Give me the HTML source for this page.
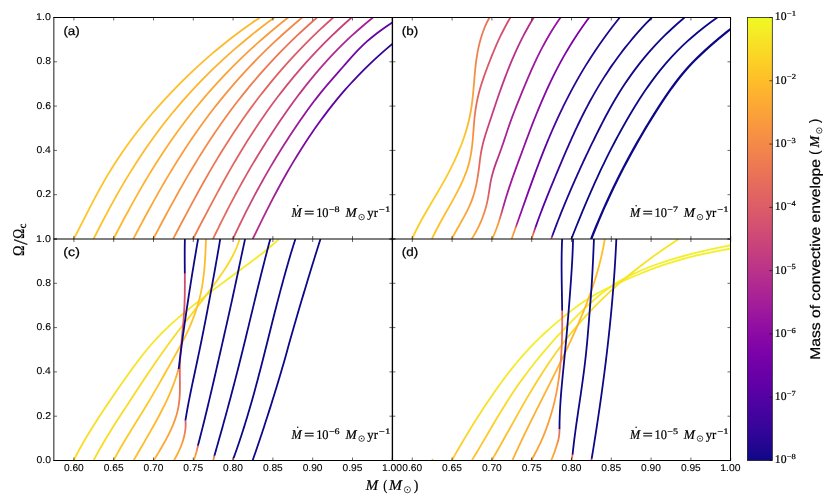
<!DOCTYPE html>
<html lang="en">
<head>
<meta charset="utf-8">
<title>Spin-up of accreting white dwarfs</title>
<style>
html,body{margin:0;padding:0;background:#fff;}
body{width:830px;height:498px;overflow:hidden;font-family:"Liberation Sans",sans-serif;}
svg{display:block;will-change:transform;}
text{white-space:pre;text-rendering:geometricPrecision;stroke:#000;stroke-width:0.22px;stroke-linejoin:round;}
#ticklabels text{stroke-width:0.1px;}
</style>
</head>
<body>
<svg width="830" height="498" viewBox="0 0 830 498">
<defs>
<linearGradient id="g1" gradientUnits="userSpaceOnUse" x1="0" y1="239.00" x2="0" y2="17.50"><stop offset="0.0000" stop-color="#fdc627"/><stop offset="0.5508" stop-color="#fdc229"/><stop offset="1.0000" stop-color="#feb72d"/><stop offset="1.0000" stop-color="#feb72d"/></linearGradient>
<linearGradient id="g2" gradientUnits="userSpaceOnUse" x1="0" y1="239.00" x2="0" y2="17.50"><stop offset="0.0000" stop-color="#fdc229"/><stop offset="0.5508" stop-color="#feba2c"/><stop offset="1.0000" stop-color="#fdab33"/><stop offset="1.0000" stop-color="#fdab33"/></linearGradient>
<linearGradient id="g3" gradientUnits="userSpaceOnUse" x1="0" y1="239.00" x2="0" y2="17.50"><stop offset="0.0000" stop-color="#feba2c"/><stop offset="0.5508" stop-color="#fdab33"/><stop offset="1.0000" stop-color="#f9983e"/><stop offset="1.0000" stop-color="#f9983e"/></linearGradient>
<linearGradient id="g4" gradientUnits="userSpaceOnUse" x1="0" y1="239.00" x2="0" y2="17.50"><stop offset="0.0000" stop-color="#fdae32"/><stop offset="0.5508" stop-color="#f9983e"/><stop offset="1.0000" stop-color="#f3874a"/><stop offset="1.0000" stop-color="#f3874a"/></linearGradient>
<linearGradient id="g5" gradientUnits="userSpaceOnUse" x1="0" y1="239.00" x2="0" y2="17.50"><stop offset="0.0000" stop-color="#fb9f3a"/><stop offset="0.5508" stop-color="#f2844b"/><stop offset="1.0000" stop-color="#e76e5b"/><stop offset="1.0000" stop-color="#e76e5b"/></linearGradient>
<linearGradient id="g6" gradientUnits="userSpaceOnUse" x1="0" y1="239.00" x2="0" y2="17.50"><stop offset="0.0000" stop-color="#f68d45"/><stop offset="0.5508" stop-color="#e56a5d"/><stop offset="1.0000" stop-color="#d6556d"/><stop offset="1.0000" stop-color="#d6556d"/></linearGradient>
<linearGradient id="g7" gradientUnits="userSpaceOnUse" x1="0" y1="239.00" x2="0" y2="17.50"><stop offset="0.0000" stop-color="#f0804e"/><stop offset="0.5508" stop-color="#d6556d"/><stop offset="1.0000" stop-color="#c43e7f"/><stop offset="1.0000" stop-color="#c43e7f"/></linearGradient>
<linearGradient id="g8" gradientUnits="userSpaceOnUse" x1="0" y1="239.00" x2="0" y2="17.50"><stop offset="0.0000" stop-color="#eb7655"/><stop offset="0.5508" stop-color="#c43e7f"/><stop offset="1.0000" stop-color="#a51f99"/><stop offset="1.0000" stop-color="#a51f99"/></linearGradient>
<linearGradient id="g9" gradientUnits="userSpaceOnUse" x1="0" y1="239.00" x2="0" y2="17.50"><stop offset="0.0000" stop-color="#dd5e66"/><stop offset="0.5508" stop-color="#9613a1"/><stop offset="1.0000" stop-color="#5901a5"/><stop offset="1.0000" stop-color="#5901a5"/></linearGradient>
<linearGradient id="g10" gradientUnits="userSpaceOnUse" x1="0" y1="239.00" x2="0" y2="30.00"><stop offset="0.0000" stop-color="#ba3388"/><stop offset="0.5837" stop-color="#6a00a8"/><stop offset="1.0000" stop-color="#1b068d"/><stop offset="1.0000" stop-color="#1b068d"/></linearGradient>
<linearGradient id="g11" gradientUnits="userSpaceOnUse" x1="0" y1="239.00" x2="0" y2="17.50"><stop offset="0.0000" stop-color="#fcce25"/><stop offset="0.4515" stop-color="#fdc627"/><stop offset="0.6275" stop-color="#fca636"/><stop offset="0.8081" stop-color="#f2844b"/><stop offset="1.0000" stop-color="#e87059"/></linearGradient>
<linearGradient id="g12" gradientUnits="userSpaceOnUse" x1="0" y1="239.00" x2="0" y2="17.50"><stop offset="0.0000" stop-color="#fdc627"/><stop offset="0.2528" stop-color="#feb72d"/><stop offset="0.3567" stop-color="#fca636"/><stop offset="0.4515" stop-color="#f89540"/><stop offset="0.5147" stop-color="#f2844b"/><stop offset="0.5824" stop-color="#e87059"/><stop offset="0.6772" stop-color="#dd5e66"/><stop offset="0.8081" stop-color="#d6556d"/><stop offset="1.0000" stop-color="#d24f71"/></linearGradient>
<linearGradient id="g13" gradientUnits="userSpaceOnUse" x1="0" y1="239.00" x2="0" y2="17.50"><stop offset="0.0000" stop-color="#feb72d"/><stop offset="0.1535" stop-color="#fb9f3a"/><stop offset="0.2664" stop-color="#ef7e50"/><stop offset="0.3567" stop-color="#e16462"/><stop offset="0.4515" stop-color="#cc4778"/><stop offset="0.6275" stop-color="#bf3984"/><stop offset="1.0000" stop-color="#b32c8e"/></linearGradient>
<linearGradient id="g14" gradientUnits="userSpaceOnUse" x1="0" y1="239.00" x2="0" y2="17.50"><stop offset="0.0000" stop-color="#fdb22f"/><stop offset="0.0948" stop-color="#f79143"/><stop offset="0.1761" stop-color="#e56a5d"/><stop offset="0.2438" stop-color="#d04d73"/><stop offset="0.3341" stop-color="#ba3388"/><stop offset="0.4515" stop-color="#ab2494"/><stop offset="1.0000" stop-color="#9613a1"/></linearGradient>
<linearGradient id="g15" gradientUnits="userSpaceOnUse" x1="0" y1="239.00" x2="0" y2="17.50"><stop offset="0.0000" stop-color="#fdae32"/><stop offset="0.0767" stop-color="#f9983e"/><stop offset="0.1129" stop-color="#d6556d"/><stop offset="0.1535" stop-color="#a72197"/><stop offset="0.4515" stop-color="#8f0da4"/><stop offset="1.0000" stop-color="#7501a8"/></linearGradient>
<linearGradient id="g16" gradientUnits="userSpaceOnUse" x1="0" y1="239.00" x2="0" y2="17.50"><stop offset="0.0000" stop-color="#fca636"/><stop offset="0.0451" stop-color="#f79143"/><stop offset="0.0677" stop-color="#b12a90"/><stop offset="0.1084" stop-color="#8f0da4"/><stop offset="0.2257" stop-color="#7e03a8"/><stop offset="0.4515" stop-color="#5601a4"/><stop offset="0.6772" stop-color="#2a0593"/><stop offset="1.0000" stop-color="#1b068d"/></linearGradient>
<linearGradient id="g17" gradientUnits="userSpaceOnUse" x1="0" y1="239.00" x2="0" y2="17.50"><stop offset="0.0000" stop-color="#fb9f3a"/><stop offset="0.0316" stop-color="#d6556d"/><stop offset="0.0587" stop-color="#6300a7"/><stop offset="0.2257" stop-color="#4903a0"/><stop offset="0.4515" stop-color="#260591"/><stop offset="1.0000" stop-color="#0d0887"/></linearGradient>
<linearGradient id="g18" gradientUnits="userSpaceOnUse" x1="0" y1="239.00" x2="0" y2="17.50"><stop offset="0.0000" stop-color="#f89540"/><stop offset="0.0113" stop-color="#8f0da4"/><stop offset="0.0226" stop-color="#20068f"/><stop offset="1.0000" stop-color="#0d0887"/></linearGradient>
<linearGradient id="g19" gradientUnits="userSpaceOnUse" x1="0" y1="239.00" x2="0" y2="17.50"><stop offset="0.0000" stop-color="#0d0887"/><stop offset="1.0000" stop-color="#0d0887"/></linearGradient>
<linearGradient id="g20" gradientUnits="userSpaceOnUse" x1="0" y1="239.00" x2="0" y2="18.00"><stop offset="0.0000" stop-color="#0d0887"/><stop offset="1.0000" stop-color="#0d0887"/></linearGradient>
<linearGradient id="g21" gradientUnits="userSpaceOnUse" x1="0" y1="460.50" x2="0" y2="239.00"><stop offset="0.0000" stop-color="#f9dc24"/><stop offset="1.0000" stop-color="#f4ed27"/></linearGradient>
<linearGradient id="g22" gradientUnits="userSpaceOnUse" x1="0" y1="460.50" x2="0" y2="239.00"><stop offset="0.0000" stop-color="#f9dc24"/><stop offset="1.0000" stop-color="#fbd724"/></linearGradient>
<linearGradient id="g23" gradientUnits="userSpaceOnUse" x1="0" y1="460.50" x2="0" y2="239.00"><stop offset="0.0000" stop-color="#fdca26"/><stop offset="0.7246" stop-color="#fdc229"/><stop offset="1.0000" stop-color="#feb72d"/></linearGradient>
<linearGradient id="g24" gradientUnits="userSpaceOnUse" x1="0" y1="460.50" x2="0" y2="239.00"><stop offset="0.0000" stop-color="#fdb22f"/><stop offset="0.1603" stop-color="#fb9f3a"/><stop offset="0.2506" stop-color="#ef7e50"/><stop offset="0.3409" stop-color="#e56a5d"/><stop offset="0.4131" stop-color="#e16462"/><stop offset="0.6343" stop-color="#da5b69"/><stop offset="0.8420" stop-color="#cc4778"/><stop offset="0.8479" stop-color="#0d0887"/><stop offset="1.0000" stop-color="#0d0887"/></linearGradient>
<linearGradient id="g25" gradientUnits="userSpaceOnUse" x1="0" y1="460.50" x2="0" y2="239.00"><stop offset="0.0000" stop-color="#febe2a"/><stop offset="0.3634" stop-color="#feb72d"/><stop offset="0.4041" stop-color="#fca636"/><stop offset="0.4108" stop-color="#f2844b"/><stop offset="0.4153" stop-color="#0d0887"/><stop offset="1.0000" stop-color="#0d0887"/></linearGradient>
<linearGradient id="g26" gradientUnits="userSpaceOnUse" x1="0" y1="460.50" x2="0" y2="239.00"><stop offset="0.0000" stop-color="#fdb22f"/><stop offset="0.0700" stop-color="#fb9f3a"/><stop offset="0.1287" stop-color="#ef7e50"/><stop offset="0.1693" stop-color="#e16462"/><stop offset="0.1797" stop-color="#dd5e66"/><stop offset="0.1828" stop-color="#0d0887"/><stop offset="1.0000" stop-color="#0d0887"/></linearGradient>
<linearGradient id="g27" gradientUnits="userSpaceOnUse" x1="0" y1="460.50" x2="0" y2="239.00"><stop offset="0.0000" stop-color="#fdae32"/><stop offset="0.0384" stop-color="#f79143"/><stop offset="0.0609" stop-color="#e56a5d"/><stop offset="0.0664" stop-color="#dd5e66"/><stop offset="0.0691" stop-color="#0d0887"/><stop offset="1.0000" stop-color="#0d0887"/></linearGradient>
<linearGradient id="g28" gradientUnits="userSpaceOnUse" x1="0" y1="460.50" x2="0" y2="239.00"><stop offset="0.0000" stop-color="#fb9f3a"/><stop offset="0.0158" stop-color="#ea7457"/><stop offset="0.0212" stop-color="#e16462"/><stop offset="0.0235" stop-color="#0d0887"/><stop offset="1.0000" stop-color="#0d0887"/></linearGradient>
<linearGradient id="g29" gradientUnits="userSpaceOnUse" x1="0" y1="460.50" x2="0" y2="239.00"><stop offset="0.0000" stop-color="#f89540"/><stop offset="0.0090" stop-color="#e16462"/><stop offset="0.0113" stop-color="#0d0887"/><stop offset="1.0000" stop-color="#0d0887"/></linearGradient>
<linearGradient id="g30" gradientUnits="userSpaceOnUse" x1="0" y1="460.50" x2="0" y2="239.00"><stop offset="0.0000" stop-color="#0d0887"/><stop offset="1.0000" stop-color="#0d0887"/></linearGradient>
<linearGradient id="g31" gradientUnits="userSpaceOnUse" x1="0" y1="460.50" x2="0" y2="244.00"><stop offset="0.0000" stop-color="#fdc627"/><stop offset="0.1871" stop-color="#f9dc24"/><stop offset="0.4642" stop-color="#f4ed27"/><stop offset="1.0000" stop-color="#f3f027"/></linearGradient>
<linearGradient id="g32" gradientUnits="userSpaceOnUse" x1="0" y1="460.50" x2="0" y2="240.20"><stop offset="0.0000" stop-color="#febe2a"/><stop offset="0.1838" stop-color="#fcd225"/><stop offset="0.4562" stop-color="#f6e826"/><stop offset="0.9986" stop-color="#f3f027"/></linearGradient>
<linearGradient id="g33" gradientUnits="userSpaceOnUse" x1="0" y1="460.50" x2="0" y2="239.00"><stop offset="0.0000" stop-color="#feb72d"/><stop offset="0.2731" stop-color="#fdca26"/><stop offset="0.6343" stop-color="#f8df25"/><stop offset="1.0000" stop-color="#f7e425"/></linearGradient>
<linearGradient id="g34" gradientUnits="userSpaceOnUse" x1="0" y1="460.50" x2="0" y2="239.00"><stop offset="0.0000" stop-color="#fdae32"/><stop offset="1.0000" stop-color="#febe2a"/></linearGradient>
<linearGradient id="g35" gradientUnits="userSpaceOnUse" x1="0" y1="460.50" x2="0" y2="239.00"><stop offset="0.0000" stop-color="#fca636"/><stop offset="0.3634" stop-color="#f9983e"/><stop offset="0.4492" stop-color="#ef7e50"/><stop offset="0.6749" stop-color="#e16462"/><stop offset="0.6795" stop-color="#0d0887"/><stop offset="1.0000" stop-color="#0d0887"/></linearGradient>
<linearGradient id="g36" gradientUnits="userSpaceOnUse" x1="0" y1="460.50" x2="0" y2="239.00"><stop offset="0.0000" stop-color="#fdae32"/><stop offset="0.0700" stop-color="#f9983e"/><stop offset="0.1151" stop-color="#eb7655"/><stop offset="0.1377" stop-color="#e16462"/><stop offset="0.1409" stop-color="#dd5e66"/><stop offset="0.1431" stop-color="#0d0887"/><stop offset="1.0000" stop-color="#0d0887"/></linearGradient>
<linearGradient id="g37" gradientUnits="userSpaceOnUse" x1="0" y1="460.50" x2="0" y2="239.00"><stop offset="0.0000" stop-color="#f58b47"/><stop offset="0.0203" stop-color="#e87059"/><stop offset="0.0257" stop-color="#e16462"/><stop offset="0.0280" stop-color="#0d0887"/><stop offset="1.0000" stop-color="#0d0887"/></linearGradient>
<linearGradient id="g38" gradientUnits="userSpaceOnUse" x1="0" y1="460.50" x2="0" y2="239.00"><stop offset="0.0000" stop-color="#e16462"/><stop offset="0.0077" stop-color="#cc4778"/><stop offset="0.0099" stop-color="#0d0887"/><stop offset="1.0000" stop-color="#0d0887"/></linearGradient><linearGradient id="cbg" x1="0" y1="0" x2="0" y2="1"><stop offset="0.0000" stop-color="#f0f921"/><stop offset="0.0312" stop-color="#f4ed27"/><stop offset="0.0625" stop-color="#f8df25"/><stop offset="0.0938" stop-color="#fcd225"/><stop offset="0.1250" stop-color="#fdc527"/><stop offset="0.1562" stop-color="#feb82c"/><stop offset="0.1875" stop-color="#fdac33"/><stop offset="0.2188" stop-color="#fba139"/><stop offset="0.2500" stop-color="#f89540"/><stop offset="0.2812" stop-color="#f58b47"/><stop offset="0.3125" stop-color="#f0804e"/><stop offset="0.3438" stop-color="#eb7655"/><stop offset="0.3750" stop-color="#e66c5c"/><stop offset="0.4062" stop-color="#e06363"/><stop offset="0.4375" stop-color="#da5a6a"/><stop offset="0.4688" stop-color="#d35171"/><stop offset="0.5000" stop-color="#cc4778"/><stop offset="0.5312" stop-color="#c43e7f"/><stop offset="0.5625" stop-color="#bc3587"/><stop offset="0.5938" stop-color="#b32c8e"/><stop offset="0.6250" stop-color="#aa2395"/><stop offset="0.6562" stop-color="#a01a9c"/><stop offset="0.6875" stop-color="#9511a1"/><stop offset="0.7188" stop-color="#8a09a5"/><stop offset="0.7500" stop-color="#7e03a8"/><stop offset="0.7812" stop-color="#7201a8"/><stop offset="0.8125" stop-color="#6600a7"/><stop offset="0.8438" stop-color="#5901a5"/><stop offset="0.8750" stop-color="#4c02a1"/><stop offset="0.9062" stop-color="#3f049c"/><stop offset="0.9375" stop-color="#310597"/><stop offset="0.9688" stop-color="#220690"/><stop offset="1.0000" stop-color="#0d0887"/></linearGradient><clipPath id="ca"><rect x="54.00" y="17.50" width="338.40" height="221.50"/></clipPath><clipPath id="cb"><rect x="392.40" y="17.50" width="338.10" height="221.50"/></clipPath><clipPath id="cc"><rect x="54.00" y="239.00" width="338.40" height="221.50"/></clipPath><clipPath id="cd"><rect x="392.40" y="239.00" width="338.10" height="221.50"/></clipPath>
</defs>
<rect x="0" y="0" width="830" height="498" fill="#fff"/>
<g clip-path="url(#ca)" fill="none" stroke-width="1.80" stroke-linecap="butt" stroke-linejoin="round">
<path d="M260.02,17.50C257.01,19.50 254.07,21.49 251.20,23.49C248.32,25.48 245.51,27.48 242.77,29.47C240.02,31.47 237.33,33.46 234.70,35.46C232.07,37.45 229.49,39.45 226.97,41.45C224.45,43.44 221.98,45.44 219.55,47.43C217.13,49.43 214.75,51.42 212.42,53.42C210.09,55.41 207.79,57.41 205.54,59.41C203.29,61.40 201.07,63.40 198.89,65.39C196.71,67.39 194.56,69.38 192.44,71.38C190.33,73.37 188.24,75.37 186.19,77.36C184.13,79.36 182.11,81.36 180.12,83.35C178.12,85.35 176.16,87.34 174.23,89.34C172.29,91.33 170.39,93.33 168.51,95.32C166.64,97.32 164.79,99.32 162.97,101.31C161.15,103.31 159.36,105.30 157.60,107.30C155.83,109.29 154.10,111.29 152.39,113.28C150.68,115.28 148.99,117.27 147.34,119.27C145.68,121.27 144.05,123.26 142.44,125.26C140.83,127.25 139.25,129.25 137.70,131.24C136.14,133.24 134.61,135.23 133.11,137.23C131.61,139.23 130.13,141.22 128.68,143.22C127.23,145.21 125.80,147.21 124.40,149.20C123.00,151.20 121.62,153.19 120.28,155.19C118.93,157.18 117.60,159.18 116.30,161.18C115.01,163.17 113.73,165.17 112.49,167.16C111.24,169.16 110.02,171.15 108.82,173.15C107.62,175.14 106.44,177.14 105.28,179.14C104.13,181.13 102.99,183.13 101.87,185.12C100.75,187.12 99.65,189.11 98.56,191.11C97.47,193.10 96.39,195.10 95.33,197.09C94.27,199.09 93.21,201.09 92.17,203.08C91.13,205.08 90.09,207.07 89.06,209.07C88.04,211.06 87.01,213.06 85.99,215.05C84.97,217.05 83.96,219.05 82.94,221.04C81.92,223.04 80.91,225.03 79.89,227.03C78.87,229.02 77.85,231.02 76.82,233.01C75.79,235.01 74.76,237.00 73.72,239.00" stroke="url(#g1)"/>
<path d="M274.24,17.50C271.54,19.50 268.88,21.49 266.26,23.49C263.64,25.48 261.06,27.48 258.52,29.47C255.98,31.47 253.48,33.46 251.02,35.46C248.55,37.45 246.13,39.45 243.74,41.45C241.35,43.44 239.00,45.44 236.69,47.43C234.37,49.43 232.09,51.42 229.85,53.42C227.61,55.41 225.40,57.41 223.23,59.41C221.05,61.40 218.91,63.40 216.81,65.39C214.70,67.39 212.63,69.38 210.59,71.38C208.55,73.37 206.54,75.37 204.57,77.36C202.59,79.36 200.64,81.36 198.73,83.35C196.81,85.35 194.93,87.34 193.07,89.34C191.22,91.33 189.39,93.33 187.59,95.32C185.80,97.32 184.03,99.32 182.28,101.31C180.54,103.31 178.83,105.30 177.14,107.30C175.45,109.29 173.79,111.29 172.15,113.28C170.52,115.28 168.91,117.27 167.32,119.27C165.73,121.27 164.17,123.26 162.63,125.26C161.09,127.25 159.58,129.25 158.08,131.24C156.59,133.24 155.12,135.23 153.67,137.23C152.22,139.23 150.80,141.22 149.39,143.22C147.98,145.21 146.59,147.21 145.23,149.20C143.86,151.20 142.51,153.19 141.18,155.19C139.85,157.18 138.54,159.18 137.25,161.18C135.96,163.17 134.68,165.17 133.42,167.16C132.16,169.16 130.92,171.15 129.70,173.15C128.47,175.14 127.26,177.14 126.06,179.14C124.86,181.13 123.68,183.13 122.51,185.12C121.34,187.12 120.19,189.11 119.05,191.11C117.90,193.10 116.78,195.10 115.66,197.09C114.54,199.09 113.43,201.09 112.34,203.08C111.24,205.08 110.16,207.07 109.08,209.07C108.00,211.06 106.94,213.06 105.88,215.05C104.82,217.05 103.78,219.05 102.73,221.04C101.69,223.04 100.66,225.03 99.63,227.03C98.61,229.02 97.59,231.02 96.57,233.01C95.56,235.01 94.55,237.00 93.55,239.00" stroke="url(#g2)"/>
<path d="M288.16,17.50C285.62,19.50 283.13,21.49 280.67,23.49C278.20,25.48 275.78,27.48 273.39,29.47C271.00,31.47 268.64,33.46 266.33,35.46C264.01,37.45 261.72,39.45 259.47,41.45C257.22,43.44 255.00,45.44 252.82,47.43C250.63,49.43 248.48,51.42 246.36,53.42C244.24,55.41 242.15,57.41 240.09,59.41C238.03,61.40 236.01,63.40 234.01,65.39C232.01,67.39 230.05,69.38 228.11,71.38C226.17,73.37 224.26,75.37 222.38,77.36C220.50,79.36 218.65,81.36 216.82,83.35C215.00,85.35 213.20,87.34 211.43,89.34C209.65,91.33 207.91,93.33 206.19,95.32C204.47,97.32 202.77,99.32 201.10,101.31C199.43,103.31 197.79,105.30 196.16,107.30C194.54,109.29 192.94,111.29 191.37,113.28C189.79,115.28 188.24,117.27 186.70,119.27C185.17,121.27 183.66,123.26 182.17,125.26C180.68,127.25 179.21,129.25 177.76,131.24C176.32,133.24 174.89,135.23 173.48,137.23C172.07,139.23 170.67,141.22 169.30,143.22C167.93,145.21 166.57,147.21 165.23,149.20C163.89,151.20 162.57,153.19 161.27,155.19C159.96,157.18 158.67,159.18 157.40,161.18C156.13,163.17 154.87,165.17 153.62,167.16C152.38,169.16 151.15,171.15 149.93,173.15C148.72,175.14 147.51,177.14 146.32,179.14C145.13,181.13 143.95,183.13 142.79,185.12C141.62,187.12 140.46,189.11 139.32,191.11C138.17,193.10 137.04,195.10 135.92,197.09C134.79,199.09 133.68,201.09 132.57,203.08C131.46,205.08 130.37,207.07 129.28,209.07C128.19,211.06 127.11,213.06 126.03,215.05C124.96,217.05 123.89,219.05 122.83,221.04C121.77,223.04 120.71,225.03 119.66,227.03C118.61,229.02 117.57,231.02 116.52,233.01C115.48,235.01 114.45,237.00 113.41,239.00" stroke="url(#g3)"/>
<path d="M302.20,17.50C299.81,19.50 297.45,21.49 295.13,23.49C292.80,25.48 290.51,27.48 288.25,29.47C285.99,31.47 283.76,33.46 281.56,35.46C279.37,37.45 277.20,39.45 275.07,41.45C272.94,43.44 270.83,45.44 268.76,47.43C266.69,49.43 264.65,51.42 262.63,53.42C260.62,55.41 258.64,57.41 256.68,59.41C254.73,61.40 252.80,63.40 250.90,65.39C249.00,67.39 247.12,69.38 245.28,71.38C243.43,73.37 241.61,75.37 239.82,77.36C238.02,79.36 236.25,81.36 234.51,83.35C232.77,85.35 231.05,87.34 229.35,89.34C227.66,91.33 225.98,93.33 224.34,95.32C222.69,97.32 221.06,99.32 219.46,101.31C217.86,103.31 216.27,105.30 214.71,107.30C213.15,109.29 211.62,111.29 210.10,113.28C208.58,115.28 207.08,117.27 205.60,119.27C204.12,121.27 202.66,123.26 201.22,125.26C199.78,127.25 198.36,129.25 196.96,131.24C195.55,133.24 194.17,135.23 192.80,137.23C191.43,139.23 190.08,141.22 188.74,143.22C187.40,145.21 186.08,147.21 184.78,149.20C183.47,151.20 182.18,153.19 180.91,155.19C179.63,157.18 178.37,159.18 177.12,161.18C175.87,163.17 174.64,165.17 173.41,167.16C172.19,169.16 170.98,171.15 169.78,173.15C168.58,175.14 167.40,177.14 166.22,179.14C165.05,181.13 163.88,183.13 162.72,185.12C161.57,187.12 160.42,189.11 159.29,191.11C158.15,193.10 157.02,195.10 155.90,197.09C154.79,199.09 153.67,201.09 152.57,203.08C151.47,205.08 150.37,207.07 149.28,209.07C148.19,211.06 147.11,213.06 146.03,215.05C144.95,217.05 143.88,219.05 142.81,221.04C141.74,223.04 140.68,225.03 139.62,227.03C138.56,229.02 137.50,231.02 136.45,233.01C135.40,235.01 134.35,237.00 133.30,239.00" stroke="url(#g4)"/>
<path d="M317.02,17.50C314.73,19.50 312.47,21.49 310.25,23.49C308.02,25.48 305.83,27.48 303.66,29.47C301.50,31.47 299.37,33.46 297.26,35.46C295.16,37.45 293.09,39.45 291.04,41.45C289.00,43.44 286.99,45.44 285.00,47.43C283.01,49.43 281.05,51.42 279.12,53.42C277.19,55.41 275.29,57.41 273.41,59.41C271.54,61.40 269.69,63.40 267.86,65.39C266.04,67.39 264.24,69.38 262.47,71.38C260.69,73.37 258.94,75.37 257.22,77.36C255.49,79.36 253.79,81.36 252.11,83.35C250.44,85.35 248.78,87.34 247.15,89.34C245.52,91.33 243.91,93.33 242.32,95.32C240.73,97.32 239.16,99.32 237.62,101.31C236.07,103.31 234.54,105.30 233.04,107.30C231.53,109.29 230.04,111.29 228.58,113.28C227.11,115.28 225.66,117.27 224.23,119.27C222.80,121.27 221.39,123.26 219.99,125.26C218.60,127.25 217.22,129.25 215.86,131.24C214.49,133.24 213.15,135.23 211.82,137.23C210.49,139.23 209.17,141.22 207.87,143.22C206.57,145.21 205.29,147.21 204.02,149.20C202.74,151.20 201.49,153.19 200.24,155.19C199.00,157.18 197.76,159.18 196.54,161.18C195.32,163.17 194.12,165.17 192.92,167.16C191.72,169.16 190.54,171.15 189.36,173.15C188.19,175.14 187.02,177.14 185.87,179.14C184.71,181.13 183.56,183.13 182.43,185.12C181.29,187.12 180.16,189.11 179.04,191.11C177.92,193.10 176.81,195.10 175.70,197.09C174.59,199.09 173.49,201.09 172.40,203.08C171.31,205.08 170.22,207.07 169.14,209.07C168.06,211.06 166.98,213.06 165.91,215.05C164.83,217.05 163.77,219.05 162.70,221.04C161.64,223.04 160.58,225.03 159.52,227.03C158.46,229.02 157.40,231.02 156.35,233.01C155.30,235.01 154.24,237.00 153.19,239.00" stroke="url(#g5)"/>
<path d="M333.26,17.50C331.02,19.50 328.82,21.49 326.64,23.49C324.47,25.48 322.32,27.48 320.21,29.47C318.10,31.47 316.02,33.46 313.96,35.46C311.91,37.45 309.89,39.45 307.89,41.45C305.90,43.44 303.94,45.44 302.00,47.43C300.06,49.43 298.15,51.42 296.27,53.42C294.39,55.41 292.53,57.41 290.70,59.41C288.87,61.40 287.07,63.40 285.29,65.39C283.52,67.39 281.76,69.38 280.04,71.38C278.31,73.37 276.60,75.37 274.92,77.36C273.24,79.36 271.59,81.36 269.95,83.35C268.32,85.35 266.71,87.34 265.12,89.34C263.53,91.33 261.96,93.33 260.42,95.32C258.87,97.32 257.35,99.32 255.84,101.31C254.33,103.31 252.85,105.30 251.38,107.30C249.92,109.29 248.47,111.29 247.04,113.28C245.61,115.28 244.20,117.27 242.81,119.27C241.42,121.27 240.04,123.26 238.68,125.26C237.32,127.25 235.98,129.25 234.65,131.24C233.32,133.24 232.01,135.23 230.72,137.23C229.42,139.23 228.14,141.22 226.87,143.22C225.60,145.21 224.35,147.21 223.11,149.20C221.87,151.20 220.64,153.19 219.42,155.19C218.21,157.18 217.00,159.18 215.81,161.18C214.62,163.17 213.44,165.17 212.27,167.16C211.09,169.16 209.93,171.15 208.78,173.15C207.63,175.14 206.49,177.14 205.36,179.14C204.23,181.13 203.10,183.13 201.99,185.12C200.87,187.12 199.76,189.11 198.66,191.11C197.56,193.10 196.46,195.10 195.37,197.09C194.28,199.09 193.20,201.09 192.12,203.08C191.05,205.08 189.97,207.07 188.90,209.07C187.84,211.06 186.77,213.06 185.71,215.05C184.65,217.05 183.59,219.05 182.54,221.04C181.48,223.04 180.43,225.03 179.38,227.03C178.33,229.02 177.28,231.02 176.23,233.01C175.18,235.01 174.13,237.00 173.09,239.00" stroke="url(#g6)"/>
<path d="M351.59,17.50C349.33,19.50 347.11,21.49 344.92,23.49C342.73,25.48 340.58,27.48 338.45,29.47C336.33,31.47 334.24,33.46 332.18,35.46C330.13,37.45 328.10,39.45 326.10,41.45C324.11,43.44 322.14,45.44 320.21,47.43C318.27,49.43 316.37,51.42 314.49,53.42C312.61,55.41 310.76,57.41 308.94,59.41C307.12,61.40 305.33,63.40 303.56,65.39C301.80,67.39 300.06,69.38 298.34,71.38C296.63,73.37 294.94,75.37 293.27,77.36C291.61,79.36 289.97,81.36 288.35,83.35C286.73,85.35 285.14,87.34 283.57,89.34C282.00,91.33 280.45,93.33 278.93,95.32C277.40,97.32 275.89,99.32 274.41,101.31C272.92,103.31 271.46,105.30 270.02,107.30C268.57,109.29 267.15,111.29 265.74,113.28C264.33,115.28 262.95,117.27 261.58,119.27C260.20,121.27 258.85,123.26 257.52,125.26C256.18,127.25 254.86,129.25 253.56,131.24C252.25,133.24 250.96,135.23 249.69,137.23C248.42,139.23 247.16,141.22 245.91,143.22C244.67,145.21 243.43,147.21 242.22,149.20C241.00,151.20 239.79,153.19 238.60,155.19C237.40,157.18 236.22,159.18 235.05,161.18C233.88,163.17 232.72,165.17 231.57,167.16C230.42,169.16 229.28,171.15 228.15,173.15C227.02,175.14 225.90,177.14 224.79,179.14C223.68,181.13 222.57,183.13 221.48,185.12C220.38,187.12 219.29,189.11 218.21,191.11C217.12,193.10 216.05,195.10 214.98,197.09C213.90,199.09 212.84,201.09 211.78,203.08C210.72,205.08 209.66,207.07 208.61,209.07C207.55,211.06 206.50,213.06 205.46,215.05C204.41,217.05 203.37,219.05 202.33,221.04C201.28,223.04 200.24,225.03 199.20,227.03C198.16,229.02 197.13,231.02 196.09,233.01C195.05,235.01 194.01,237.00 192.97,239.00" stroke="url(#g7)"/>
<path d="M373.00,17.50C370.51,19.50 368.07,21.49 365.69,23.49C363.31,25.48 360.99,27.48 358.72,29.47C356.45,31.47 354.23,33.46 352.06,35.46C349.88,37.45 347.76,39.45 345.69,41.45C343.61,43.44 341.58,45.44 339.59,47.43C337.60,49.43 335.65,51.42 333.74,53.42C331.84,55.41 329.97,57.41 328.13,59.41C326.30,61.40 324.50,63.40 322.73,65.39C320.96,67.39 319.23,69.38 317.52,71.38C315.81,73.37 314.14,75.37 312.49,77.36C310.84,79.36 309.22,81.36 307.62,83.35C306.02,85.35 304.45,87.34 302.90,89.34C301.35,91.33 299.83,93.33 298.32,95.32C296.82,97.32 295.34,99.32 293.88,101.31C292.41,103.31 290.97,105.30 289.54,107.30C288.11,109.29 286.70,111.29 285.31,113.28C283.91,115.28 282.53,117.27 281.17,119.27C279.80,121.27 278.45,123.26 277.11,125.26C275.77,127.25 274.44,129.25 273.13,131.24C271.82,133.24 270.52,135.23 269.23,137.23C267.94,139.23 266.67,141.22 265.41,143.22C264.14,145.21 262.89,147.21 261.66,149.20C260.42,151.20 259.19,153.19 257.98,155.19C256.76,157.18 255.56,159.18 254.37,161.18C253.18,163.17 252.00,165.17 250.83,167.16C249.66,169.16 248.51,171.15 247.36,173.15C246.21,175.14 245.08,177.14 243.95,179.14C242.83,181.13 241.71,183.13 240.61,185.12C239.50,187.12 238.41,189.11 237.32,191.11C236.24,193.10 235.16,195.10 234.10,197.09C233.03,199.09 231.97,201.09 230.93,203.08C229.88,205.08 228.84,207.07 227.81,209.07C226.78,211.06 225.76,213.06 224.75,215.05C223.74,217.05 222.73,219.05 221.74,221.04C220.74,223.04 219.76,225.03 218.78,227.03C217.80,229.02 216.82,231.02 215.86,233.01C214.90,235.01 213.94,237.00 212.99,239.00" stroke="url(#g8)"/>
<path d="M400.44,17.50C397.11,19.50 393.92,21.49 390.85,23.49C387.79,25.48 384.86,27.48 382.07,29.47C379.28,31.47 376.63,33.46 374.12,35.46C371.61,37.45 369.24,39.45 367.01,41.45C364.78,43.44 362.67,45.44 360.67,47.43C358.66,49.43 356.75,51.42 354.90,53.42C353.05,55.41 351.26,57.41 349.50,59.41C347.74,61.40 346.00,63.40 344.27,65.39C342.53,67.39 340.78,69.38 339.02,71.38C337.27,73.37 335.51,75.37 333.76,77.36C332.01,79.36 330.27,81.36 328.55,83.35C326.84,85.35 325.15,87.34 323.50,89.34C321.85,91.33 320.24,93.33 318.66,95.32C317.08,97.32 315.53,99.32 314.02,101.31C312.50,103.31 311.01,105.30 309.55,107.30C308.08,109.29 306.64,111.29 305.22,113.28C303.79,115.28 302.39,117.27 301.00,119.27C299.61,121.27 298.23,123.26 296.87,125.26C295.51,127.25 294.16,129.25 292.83,131.24C291.50,133.24 290.18,135.23 288.88,137.23C287.58,139.23 286.29,141.22 285.01,143.22C283.73,145.21 282.47,147.21 281.22,149.20C279.98,151.20 278.74,153.19 277.52,155.19C276.30,157.18 275.09,159.18 273.89,161.18C272.69,163.17 271.51,165.17 270.34,167.16C269.17,169.16 268.01,171.15 266.86,173.15C265.71,175.14 264.58,177.14 263.45,179.14C262.33,181.13 261.22,183.13 260.12,185.12C259.02,187.12 257.93,189.11 256.85,191.11C255.77,193.10 254.70,195.10 253.65,197.09C252.59,199.09 251.54,201.09 250.51,203.08C249.47,205.08 248.45,207.07 247.43,209.07C246.42,211.06 245.41,213.06 244.41,215.05C243.42,217.05 242.43,219.05 241.45,221.04C240.48,223.04 239.51,225.03 238.55,227.03C237.59,229.02 236.64,231.02 235.70,233.01C234.76,235.01 233.82,237.00 232.90,239.00" stroke="url(#g9)"/>
<path d="M410.13,30.00C407.46,31.99 404.85,33.98 402.30,35.97C399.75,37.96 397.25,39.95 394.81,41.94C392.36,43.93 389.97,45.92 387.63,47.91C385.29,49.90 383.01,51.90 380.77,53.89C378.53,55.88 376.34,57.87 374.19,59.86C372.05,61.85 369.95,63.84 367.90,65.83C365.84,67.82 363.83,69.81 361.86,71.80C359.89,73.79 357.96,75.78 356.08,77.77C354.19,79.76 352.34,81.75 350.52,83.74C348.71,85.73 346.93,87.72 345.19,89.71C343.45,91.70 341.74,93.70 340.07,95.69C338.39,97.68 336.74,99.67 335.13,101.66C333.51,103.65 331.93,105.64 330.37,107.63C328.81,109.62 327.28,111.61 325.77,113.60C324.26,115.59 322.78,117.58 321.32,119.57C319.86,121.56 318.42,123.55 317.00,125.54C315.58,127.53 314.19,129.52 312.81,131.51C311.44,133.50 310.09,135.50 308.75,137.49C307.42,139.48 306.10,141.47 304.81,143.46C303.51,145.45 302.23,147.44 300.97,149.43C299.71,151.42 298.47,153.41 297.25,155.40C296.02,157.39 294.81,159.38 293.62,161.37C292.42,163.36 291.24,165.35 290.08,167.34C288.92,169.33 287.77,171.32 286.63,173.31C285.50,175.30 284.37,177.30 283.26,179.29C282.16,181.28 281.06,183.27 279.97,185.26C278.89,187.25 277.81,189.24 276.75,191.23C275.68,193.22 274.63,195.21 273.59,197.20C272.54,199.19 271.51,201.18 270.48,203.17C269.46,205.16 268.44,207.15 267.43,209.14C266.42,211.13 265.41,213.12 264.42,215.11C263.42,217.10 262.43,219.10 261.44,221.09C260.46,223.08 259.48,225.07 258.50,227.06C257.53,229.05 256.56,231.04 255.59,233.03C254.62,235.02 253.66,237.01 252.69,239.00" stroke="url(#g10)"/>
</g>
<g clip-path="url(#cb)" fill="none" stroke-width="1.80" stroke-linecap="butt" stroke-linejoin="round">
<path d="M489.46,17.50C488.37,19.50 487.37,21.49 486.44,23.49C485.51,25.48 484.66,27.48 483.88,29.47C483.10,31.47 482.39,33.46 481.75,35.46C481.10,37.45 480.51,39.45 479.98,41.45C479.44,43.44 478.96,45.44 478.53,47.43C478.10,49.43 477.71,51.42 477.36,53.42C477.01,55.41 476.70,57.41 476.42,59.41C476.14,61.40 475.89,63.40 475.66,65.39C475.43,67.39 475.22,69.38 475.03,71.38C474.84,73.37 474.66,75.37 474.49,77.36C474.32,79.36 474.15,81.36 473.99,83.35C473.82,85.35 473.66,87.34 473.48,89.34C473.30,91.33 473.12,93.33 472.92,95.32C472.71,97.32 472.49,99.32 472.25,101.31C472.00,103.31 471.73,105.30 471.43,107.30C471.13,109.29 470.79,111.29 470.42,113.28C470.04,115.28 469.63,117.27 469.17,119.27C468.71,121.27 468.22,123.26 467.69,125.26C467.16,127.25 466.59,129.25 465.98,131.24C465.37,133.24 464.73,135.23 464.05,137.23C463.38,139.23 462.66,141.22 461.92,143.22C461.17,145.21 460.39,147.21 459.58,149.20C458.77,151.20 457.92,153.19 457.05,155.19C456.17,157.18 455.27,159.18 454.33,161.18C453.40,163.17 452.43,165.17 451.44,167.16C450.44,169.16 449.42,171.15 448.37,173.15C447.33,175.14 446.25,177.14 445.15,179.14C444.05,181.13 442.93,183.13 441.79,185.12C440.65,187.12 439.49,189.11 438.32,191.11C437.16,193.10 435.98,195.10 434.80,197.09C433.62,199.09 432.44,201.09 431.26,203.08C430.09,205.08 428.91,207.07 427.75,209.07C426.59,211.06 425.44,213.06 424.31,215.05C423.17,217.05 422.06,219.05 420.97,221.04C419.88,223.04 418.82,225.03 417.79,227.03C416.76,229.02 415.76,231.02 414.80,233.01C413.84,235.01 412.92,237.00 412.04,239.00" stroke="url(#g11)"/>
<path d="M510.37,17.50C509.19,19.50 508.05,21.49 506.95,23.49C505.84,25.48 504.78,27.48 503.76,29.47C502.73,31.47 501.73,33.46 500.77,35.46C499.81,37.45 498.88,39.45 497.97,41.45C497.06,43.44 496.18,45.44 495.32,47.43C494.47,49.43 493.63,51.42 492.81,53.42C491.99,55.41 491.19,57.41 490.41,59.41C489.62,61.40 488.85,63.40 488.08,65.39C487.32,67.39 486.56,69.38 485.83,71.38C485.09,73.37 484.37,75.37 483.68,77.36C482.99,79.36 482.32,81.36 481.68,83.35C481.05,85.35 480.45,87.34 479.89,89.34C479.33,91.33 478.81,93.33 478.33,95.32C477.85,97.32 477.41,99.32 477.00,101.31C476.60,103.31 476.24,105.30 475.91,107.30C475.58,109.29 475.30,111.29 475.04,113.28C474.79,115.28 474.58,117.27 474.39,119.27C474.19,121.27 474.03,123.26 473.87,125.26C473.71,127.25 473.57,129.25 473.42,131.24C473.27,133.24 473.12,135.23 472.96,137.23C472.79,139.23 472.62,141.22 472.41,143.22C472.21,145.21 471.98,147.21 471.70,149.20C471.43,151.20 471.12,153.19 470.76,155.19C470.40,157.18 469.98,159.18 469.50,161.18C469.02,163.17 468.47,165.17 467.85,167.16C467.23,169.16 466.54,171.15 465.79,173.15C465.04,175.14 464.23,177.14 463.37,179.14C462.51,181.13 461.60,183.13 460.64,185.12C459.69,187.12 458.70,189.11 457.67,191.11C456.65,193.10 455.59,195.10 454.51,197.09C453.43,199.09 452.33,201.09 451.22,203.08C450.10,205.08 448.98,207.07 447.85,209.07C446.72,211.06 445.59,213.06 444.46,215.05C443.34,217.05 442.22,219.05 441.12,221.04C440.02,223.04 438.93,225.03 437.87,227.03C436.82,229.02 435.78,231.02 434.79,233.01C433.79,235.01 432.83,237.00 431.91,239.00" stroke="url(#g12)"/>
<path d="M533.68,17.50C532.47,19.50 531.29,21.49 530.14,23.49C528.99,25.48 527.87,27.48 526.78,29.47C525.68,31.47 524.62,33.46 523.59,35.46C522.55,37.45 521.54,39.45 520.56,41.45C519.57,43.44 518.61,45.44 517.68,47.43C516.74,49.43 515.83,51.42 514.93,53.42C514.04,55.41 513.17,57.41 512.31,59.41C511.46,61.40 510.63,63.40 509.81,65.39C508.99,67.39 508.19,69.38 507.41,71.38C506.63,73.37 505.86,75.37 505.10,77.36C504.34,79.36 503.60,81.36 502.87,83.35C502.14,85.35 501.42,87.34 500.71,89.34C500.00,91.33 499.30,93.33 498.61,95.32C497.91,97.32 497.23,99.32 496.55,101.31C495.87,103.31 495.20,105.30 494.53,107.30C493.86,109.29 493.19,111.29 492.53,113.28C491.86,115.28 491.20,117.27 490.54,119.27C489.88,121.27 489.22,123.26 488.55,125.26C487.89,127.25 487.23,129.25 486.58,131.24C485.93,133.24 485.30,135.23 484.70,137.23C484.10,139.23 483.54,141.22 483.03,143.22C482.52,145.21 482.07,147.21 481.67,149.20C481.28,151.20 480.95,153.19 480.64,155.19C480.34,157.18 480.08,159.18 479.82,161.18C479.57,163.17 479.33,165.17 479.08,167.16C478.83,169.16 478.57,171.15 478.29,173.15C478.00,175.14 477.70,177.14 477.35,179.14C477.01,181.13 476.63,183.13 476.20,185.12C475.77,187.12 475.29,189.11 474.75,191.11C474.22,193.10 473.62,195.10 472.94,197.09C472.27,199.09 471.52,201.09 470.69,203.08C469.86,205.08 468.96,207.07 467.99,209.07C467.03,211.06 466.01,213.06 464.95,215.05C463.90,217.05 462.80,219.05 461.69,221.04C460.57,223.04 459.44,225.03 458.31,227.03C457.17,229.02 456.04,231.02 454.92,233.01C453.81,235.01 452.71,237.00 451.66,239.00" stroke="url(#g13)"/>
<path d="M560.52,17.50C559.11,19.50 557.75,21.49 556.43,23.49C555.11,25.48 553.83,27.48 552.58,29.47C551.34,31.47 550.13,33.46 548.96,35.46C547.79,37.45 546.65,39.45 545.54,41.45C544.44,43.44 543.36,45.44 542.31,47.43C541.26,49.43 540.24,51.42 539.24,53.42C538.24,55.41 537.27,57.41 536.32,59.41C535.36,61.40 534.43,63.40 533.52,65.39C532.60,67.39 531.71,69.38 530.83,71.38C529.95,73.37 529.08,75.37 528.22,77.36C527.37,79.36 526.52,81.36 525.69,83.35C524.85,85.35 524.02,87.34 523.20,89.34C522.37,91.33 521.56,93.33 520.74,95.32C519.92,97.32 519.11,99.32 518.31,101.31C517.50,103.31 516.71,105.30 515.92,107.30C515.14,109.29 514.36,111.29 513.60,113.28C512.84,115.28 512.09,117.27 511.35,119.27C510.62,121.27 509.91,123.26 509.21,125.26C508.52,127.25 507.84,129.25 507.17,131.24C506.50,133.24 505.84,135.23 505.18,137.23C504.52,139.23 503.85,141.22 503.18,143.22C502.50,145.21 501.80,147.21 501.09,149.20C500.37,151.20 499.63,153.19 498.89,155.19C498.14,157.18 497.40,159.18 496.67,161.18C495.94,163.17 495.23,165.17 494.56,167.16C493.90,169.16 493.27,171.15 492.70,173.15C492.13,175.14 491.63,177.14 491.20,179.14C490.77,181.13 490.40,183.13 490.07,185.12C489.74,187.12 489.45,189.11 489.15,191.11C488.85,193.10 488.54,195.10 488.19,197.09C487.83,199.09 487.42,201.09 486.96,203.08C486.49,205.08 485.97,207.07 485.39,209.07C484.80,211.06 484.16,213.06 483.45,215.05C482.75,217.05 481.97,219.05 481.14,221.04C480.30,223.04 479.39,225.03 478.41,227.03C477.44,229.02 476.39,231.02 475.26,233.01C474.14,235.01 472.94,237.00 471.66,239.00" stroke="url(#g14)"/>
<path d="M589.16,17.50C587.66,19.50 586.19,21.49 584.76,23.49C583.33,25.48 581.93,27.48 580.56,29.47C579.19,31.47 577.85,33.46 576.53,35.46C575.22,37.45 573.94,39.45 572.68,41.45C571.42,43.44 570.20,45.44 568.99,47.43C567.79,49.43 566.61,51.42 565.46,53.42C564.30,55.41 563.17,57.41 562.07,59.41C560.96,61.40 559.88,63.40 558.82,65.39C557.75,67.39 556.71,69.38 555.69,71.38C554.67,73.37 553.67,75.37 552.69,77.36C551.71,79.36 550.75,81.36 549.80,83.35C548.86,85.35 547.93,87.34 547.02,89.34C546.11,91.33 545.21,93.33 544.33,95.32C543.44,97.32 542.58,99.32 541.72,101.31C540.87,103.31 540.03,105.30 539.20,107.30C538.37,109.29 537.55,111.29 536.74,113.28C535.93,115.28 535.13,117.27 534.34,119.27C533.55,121.27 532.77,123.26 532.00,125.26C531.23,127.25 530.46,129.25 529.70,131.24C528.94,133.24 528.19,135.23 527.44,137.23C526.69,139.23 525.94,141.22 525.20,143.22C524.46,145.21 523.72,147.21 522.98,149.20C522.24,151.20 521.51,153.19 520.77,155.19C520.04,157.18 519.30,159.18 518.57,161.18C517.83,163.17 517.10,165.17 516.37,167.16C515.64,169.16 514.92,171.15 514.20,173.15C513.49,175.14 512.78,177.14 512.08,179.14C511.39,181.13 510.70,183.13 510.03,185.12C509.35,187.12 508.69,189.11 508.05,191.11C507.41,193.10 506.78,195.10 506.17,197.09C505.57,199.09 504.97,201.09 504.39,203.08C503.81,205.08 503.23,207.07 502.66,209.07C502.09,211.06 501.51,213.06 500.92,215.05C500.33,217.05 499.73,219.05 499.09,221.04C498.45,223.04 497.78,225.03 497.07,227.03C496.35,229.02 495.59,231.02 494.77,233.01C493.95,235.01 493.06,237.00 492.10,239.00" stroke="url(#g15)"/>
<path d="M619.79,17.50C618.16,19.50 616.57,21.49 615.00,23.49C613.43,25.48 611.89,27.48 610.38,29.47C608.87,31.47 607.38,33.46 605.92,35.46C604.46,37.45 603.02,39.45 601.61,41.45C600.20,43.44 598.81,45.44 597.45,47.43C596.08,49.43 594.74,51.42 593.43,53.42C592.11,55.41 590.82,57.41 589.55,59.41C588.28,61.40 587.03,63.40 585.80,65.39C584.57,67.39 583.36,69.38 582.18,71.38C580.99,73.37 579.82,75.37 578.68,77.36C577.53,79.36 576.40,81.36 575.30,83.35C574.19,85.35 573.10,87.34 572.03,89.34C570.95,91.33 569.90,93.33 568.86,95.32C567.83,97.32 566.81,99.32 565.80,101.31C564.80,103.31 563.81,105.30 562.84,107.30C561.86,109.29 560.91,111.29 559.96,113.28C559.02,115.28 558.09,117.27 557.18,119.27C556.26,121.27 555.36,123.26 554.47,125.26C553.58,127.25 552.70,129.25 551.84,131.24C550.98,133.24 550.12,135.23 549.28,137.23C548.44,139.23 547.61,141.22 546.79,143.22C545.97,145.21 545.16,147.21 544.35,149.20C543.55,151.20 542.76,153.19 541.98,155.19C541.19,157.18 540.42,159.18 539.65,161.18C538.88,163.17 538.12,165.17 537.37,167.16C536.61,169.16 535.86,171.15 535.12,173.15C534.38,175.14 533.65,177.14 532.92,179.14C532.18,181.13 531.46,183.13 530.74,185.12C530.02,187.12 529.30,189.11 528.58,191.11C527.87,193.10 527.16,195.10 526.45,197.09C525.74,199.09 525.03,201.09 524.33,203.08C523.62,205.08 522.92,207.07 522.22,209.07C521.51,211.06 520.81,213.06 520.11,215.05C519.41,217.05 518.71,219.05 518.00,221.04C517.30,223.04 516.59,225.03 515.89,227.03C515.18,229.02 514.47,231.02 513.76,233.01C513.05,235.01 512.34,237.00 511.62,239.00" stroke="url(#g16)"/>
<path d="M651.83,17.50C649.86,19.50 647.94,21.49 646.05,23.49C644.17,25.48 642.33,27.48 640.52,29.47C638.72,31.47 636.96,33.46 635.23,35.46C633.51,37.45 631.82,39.45 630.17,41.45C628.52,43.44 626.90,45.44 625.32,47.43C623.75,49.43 622.20,51.42 620.69,53.42C619.18,55.41 617.70,57.41 616.25,59.41C614.81,61.40 613.39,63.40 612.00,65.39C610.62,67.39 609.26,69.38 607.94,71.38C606.61,73.37 605.31,75.37 604.04,77.36C602.77,79.36 601.52,81.36 600.30,83.35C599.08,85.35 597.88,87.34 596.71,89.34C595.54,91.33 594.39,93.33 593.26,95.32C592.13,97.32 591.03,99.32 589.94,101.31C588.86,103.31 587.79,105.30 586.74,107.30C585.70,109.29 584.67,111.29 583.66,113.28C582.65,115.28 581.65,117.27 580.67,119.27C579.69,121.27 578.73,123.26 577.78,125.26C576.83,127.25 575.89,129.25 574.96,131.24C574.04,133.24 573.13,135.23 572.22,137.23C571.32,139.23 570.43,141.22 569.54,143.22C568.66,145.21 567.78,147.21 566.92,149.20C566.05,151.20 565.19,153.19 564.33,155.19C563.48,157.18 562.62,159.18 561.78,161.18C560.93,163.17 560.09,165.17 559.25,167.16C558.41,169.16 557.57,171.15 556.73,173.15C555.90,175.14 555.06,177.14 554.23,179.14C553.40,181.13 552.57,183.13 551.75,185.12C550.93,187.12 550.11,189.11 549.30,191.11C548.49,193.10 547.69,195.10 546.89,197.09C546.09,199.09 545.30,201.09 544.52,203.08C543.74,205.08 542.96,207.07 542.20,209.07C541.44,211.06 540.68,213.06 539.94,215.05C539.20,217.05 538.47,219.05 537.75,221.04C537.03,223.04 536.32,225.03 535.62,227.03C534.93,229.02 534.25,231.02 533.58,233.01C532.92,235.01 532.26,237.00 531.63,239.00" stroke="url(#g17)"/>
<path d="M684.54,17.50C682.16,19.50 679.85,21.49 677.59,23.49C675.34,25.48 673.15,27.48 671.01,29.47C668.88,31.47 666.80,33.46 664.77,35.46C662.75,37.45 660.78,39.45 658.87,41.45C656.95,43.44 655.08,45.44 653.27,47.43C651.45,49.43 649.68,51.42 647.96,53.42C646.24,55.41 644.57,57.41 642.93,59.41C641.30,61.40 639.71,63.40 638.17,65.39C636.62,67.39 635.11,69.38 633.64,71.38C632.17,73.37 630.74,75.37 629.34,77.36C627.95,79.36 626.58,81.36 625.25,83.35C623.92,85.35 622.63,87.34 621.36,89.34C620.09,91.33 618.85,93.33 617.64,95.32C616.42,97.32 615.24,99.32 614.07,101.31C612.91,103.31 611.77,105.30 610.65,107.30C609.53,109.29 608.44,111.29 607.35,113.28C606.27,115.28 605.21,117.27 604.17,119.27C603.12,121.27 602.09,123.26 601.07,125.26C600.05,127.25 599.04,129.25 598.04,131.24C597.04,133.24 596.06,135.23 595.07,137.23C594.09,139.23 593.12,141.22 592.15,143.22C591.18,145.21 590.21,147.21 589.26,149.20C588.30,151.20 587.35,153.19 586.40,155.19C585.46,157.18 584.52,159.18 583.59,161.18C582.66,163.17 581.73,165.17 580.81,167.16C579.90,169.16 578.98,171.15 578.08,173.15C577.18,175.14 576.28,177.14 575.39,179.14C574.50,181.13 573.62,183.13 572.75,185.12C571.87,187.12 571.00,189.11 570.15,191.11C569.29,193.10 568.44,195.10 567.59,197.09C566.75,199.09 565.92,201.09 565.09,203.08C564.26,205.08 563.44,207.07 562.63,209.07C561.83,211.06 561.02,213.06 560.23,215.05C559.44,217.05 558.66,219.05 557.88,221.04C557.11,223.04 556.34,225.03 555.59,227.03C554.83,229.02 554.08,231.02 553.35,233.01C552.61,235.01 551.88,237.00 551.17,239.00" stroke="url(#g18)"/>
<path d="M717.30,17.50C714.44,19.50 711.68,21.49 709.01,23.49C706.34,25.48 703.76,27.48 701.26,29.47C698.76,31.47 696.35,33.46 694.02,35.46C691.68,37.45 689.43,39.45 687.24,41.45C685.06,43.44 682.95,45.44 680.91,47.43C678.86,49.43 676.89,51.42 674.98,53.42C673.06,55.41 671.21,57.41 669.42,59.41C667.62,61.40 665.88,63.40 664.20,65.39C662.51,67.39 660.87,69.38 659.28,71.38C657.69,73.37 656.14,75.37 654.64,77.36C653.13,79.36 651.66,81.36 650.23,83.35C648.80,85.35 647.40,87.34 646.03,89.34C644.66,91.33 643.32,93.33 642.01,95.32C640.69,97.32 639.40,99.32 638.14,101.31C636.87,103.31 635.63,105.30 634.40,107.30C633.18,109.29 631.97,111.29 630.79,113.28C629.60,115.28 628.43,117.27 627.27,119.27C626.12,121.27 624.98,123.26 623.85,125.26C622.72,127.25 621.61,129.25 620.51,131.24C619.41,133.24 618.33,135.23 617.26,137.23C616.18,139.23 615.12,141.22 614.08,143.22C613.03,145.21 612.00,147.21 610.98,149.20C609.96,151.20 608.95,153.19 607.95,155.19C606.95,157.18 605.96,159.18 604.99,161.18C604.01,163.17 603.05,165.17 602.09,167.16C601.14,169.16 600.20,171.15 599.26,173.15C598.33,175.14 597.41,177.14 596.49,179.14C595.58,181.13 594.67,183.13 593.78,185.12C592.88,187.12 592.00,189.11 591.12,191.11C590.24,193.10 589.37,195.10 588.51,197.09C587.64,199.09 586.79,201.09 585.94,203.08C585.09,205.08 584.25,207.07 583.42,209.07C582.58,211.06 581.76,213.06 580.94,215.05C580.12,217.05 579.30,219.05 578.49,221.04C577.68,223.04 576.88,225.03 576.08,227.03C575.28,229.02 574.49,231.02 573.70,233.01C572.91,235.01 572.13,237.00 571.35,239.00" stroke="url(#g19)"/>
<path d="M745.17,18.00C742.48,19.99 739.83,21.98 737.21,23.97C734.59,25.96 732.01,27.95 729.48,29.95C726.95,31.94 724.46,33.93 722.01,35.92C719.57,37.91 717.18,39.90 714.84,41.89C712.50,43.88 710.21,45.87 707.98,47.86C705.75,49.86 703.58,51.85 701.47,53.84C699.36,55.83 697.31,57.82 695.33,59.81C693.34,61.80 691.43,63.79 689.58,65.78C687.74,67.77 685.97,69.77 684.27,71.76C682.57,73.75 680.93,75.74 679.35,77.73C677.77,79.72 676.25,81.71 674.76,83.70C673.28,85.69 671.83,87.68 670.41,89.68C669.00,91.67 667.61,93.66 666.24,95.65C664.88,97.64 663.54,99.63 662.22,101.62C660.90,103.61 659.60,105.60 658.32,107.59C657.04,109.59 655.78,111.58 654.53,113.57C653.28,115.56 652.05,117.55 650.82,119.54C649.60,121.53 648.39,123.52 647.19,125.51C645.99,127.50 644.80,129.50 643.62,131.49C642.45,133.48 641.28,135.47 640.13,137.46C638.98,139.45 637.83,141.44 636.70,143.43C635.57,145.42 634.46,147.41 633.35,149.41C632.24,151.40 631.15,153.39 630.06,155.38C628.98,157.37 627.91,159.36 626.85,161.35C625.79,163.34 624.74,165.33 623.70,167.32C622.66,169.32 621.64,171.31 620.62,173.30C619.61,175.29 618.60,177.28 617.61,179.27C616.62,181.26 615.64,183.25 614.67,185.24C613.70,187.23 612.74,189.23 611.79,191.22C610.85,193.21 609.91,195.20 608.99,197.19C608.06,199.18 607.15,201.17 606.25,203.16C605.34,205.15 604.45,207.14 603.57,209.14C602.69,211.13 601.82,213.12 600.96,215.11C600.11,217.10 599.26,219.09 598.42,221.08C597.59,223.07 596.76,225.06 595.95,227.05C595.13,229.05 594.33,231.04 593.54,233.03C592.74,235.02 591.96,237.01 591.19,239.00" stroke="url(#g20)" stroke-width="2.30"/>
</g>
<g clip-path="url(#cc)" fill="none" stroke-width="1.80" stroke-linecap="butt" stroke-linejoin="round">
<path d="M278.76,239.00C276.74,241.00 274.57,242.99 272.30,244.99C270.02,246.98 267.64,248.98 265.17,250.97C262.70,252.97 260.14,254.96 257.54,256.96C254.93,258.95 252.27,260.95 249.58,262.95C246.89,264.94 244.17,266.94 241.46,268.93C238.74,270.93 236.03,272.92 233.34,274.92C230.64,276.91 227.96,278.91 225.28,280.91C222.61,282.90 219.95,284.90 217.31,286.89C214.66,288.89 212.03,290.88 209.41,292.88C206.80,294.87 204.20,296.87 201.62,298.86C199.05,300.86 196.50,302.86 193.98,304.85C191.47,306.85 188.99,308.84 186.56,310.84C184.12,312.83 181.74,314.83 179.40,316.82C177.07,318.82 174.78,320.82 172.57,322.81C170.35,324.81 168.20,326.80 166.12,328.80C164.04,330.79 162.03,332.79 160.10,334.78C158.18,336.78 156.32,338.77 154.53,340.77C152.73,342.77 151.00,344.76 149.32,346.76C147.64,348.75 146.01,350.75 144.41,352.74C142.81,354.74 141.25,356.73 139.72,358.73C138.19,360.73 136.68,362.72 135.19,364.72C133.69,366.71 132.22,368.71 130.77,370.70C129.31,372.70 127.87,374.69 126.45,376.69C125.02,378.68 123.61,380.68 122.22,382.68C120.82,384.67 119.44,386.67 118.06,388.66C116.69,390.66 115.33,392.65 113.97,394.65C112.62,396.64 111.27,398.64 109.93,400.64C108.59,402.63 107.26,404.63 105.93,406.62C104.60,408.62 103.28,410.61 101.97,412.61C100.65,414.60 99.35,416.60 98.06,418.59C96.76,420.59 95.48,422.59 94.22,424.58C92.95,426.58 91.70,428.57 90.47,430.57C89.23,432.56 88.02,434.56 86.82,436.55C85.62,438.55 84.45,440.55 83.30,442.54C82.14,444.54 81.01,446.53 79.91,448.53C78.81,450.52 77.73,452.52 76.68,454.51C75.63,456.51 74.61,458.50 73.62,460.50" stroke="url(#g21)"/>
<path d="M239.57,239.00C239.03,241.00 238.39,242.99 237.64,244.99C236.90,246.98 236.06,248.98 235.13,250.97C234.21,252.97 233.20,254.96 232.12,256.96C231.05,258.95 229.90,260.95 228.70,262.95C227.49,264.94 226.23,266.94 224.93,268.93C223.63,270.93 222.29,272.92 220.91,274.92C219.54,276.91 218.14,278.91 216.72,280.91C215.29,282.90 213.85,284.90 212.38,286.89C210.92,288.89 209.43,290.88 207.94,292.88C206.44,294.87 204.93,296.87 203.41,298.86C201.89,300.86 200.35,302.86 198.81,304.85C197.26,306.85 195.70,308.84 194.14,310.84C192.58,312.83 191.01,314.83 189.43,316.82C187.85,318.82 186.27,320.82 184.70,322.81C183.13,324.81 181.56,326.80 180.02,328.80C178.47,330.79 176.94,332.79 175.44,334.78C173.93,336.78 172.43,338.77 170.96,340.77C169.48,342.77 168.02,344.76 166.58,346.76C165.13,348.75 163.70,350.75 162.29,352.74C160.87,354.74 159.47,356.73 158.07,358.73C156.68,360.73 155.30,362.72 153.93,364.72C152.56,366.71 151.20,368.71 149.85,370.70C148.50,372.70 147.16,374.69 145.82,376.69C144.49,378.68 143.16,380.68 141.84,382.68C140.52,384.67 139.20,386.67 137.89,388.66C136.58,390.66 135.27,392.65 133.97,394.65C132.66,396.64 131.36,398.64 130.06,400.64C128.76,402.63 127.46,404.63 126.17,406.62C124.87,408.62 123.57,410.61 122.28,412.61C120.99,414.60 119.70,416.60 118.41,418.59C117.13,420.59 115.85,422.59 114.59,424.58C113.32,426.58 112.06,428.57 110.82,430.57C109.58,432.56 108.35,434.56 107.14,436.55C105.92,438.55 104.73,440.55 103.55,442.54C102.37,444.54 101.22,446.53 100.08,448.53C98.95,450.52 97.84,452.52 96.75,454.51C95.67,456.51 94.61,458.50 93.58,460.50" stroke="url(#g22)"/>
<path d="M206.00,239.00C205.93,241.00 205.85,242.99 205.78,244.99C205.70,246.98 205.62,248.98 205.52,250.97C205.43,252.97 205.34,254.96 205.22,256.96C205.11,258.95 204.99,260.95 204.84,262.95C204.70,264.94 204.54,266.94 204.36,268.93C204.18,270.93 203.97,272.92 203.74,274.92C203.51,276.91 203.25,278.91 202.97,280.91C202.68,282.90 202.36,284.90 202.01,286.89C201.65,288.89 201.26,290.88 200.84,292.88C200.41,294.87 199.94,296.87 199.43,298.86C198.92,300.86 198.36,302.86 197.77,304.85C197.18,306.85 196.55,308.84 195.88,310.84C195.21,312.83 194.50,314.83 193.76,316.82C193.01,318.82 192.22,320.82 191.40,322.81C190.58,324.81 189.72,326.80 188.83,328.80C187.93,330.79 187.00,332.79 186.04,334.78C185.07,336.78 184.07,338.77 183.04,340.77C182.01,342.77 180.94,344.76 179.86,346.76C178.78,348.75 177.68,350.75 176.57,352.74C175.46,354.74 174.33,356.73 173.21,358.73C172.09,360.73 170.96,362.72 169.84,364.72C168.72,366.71 167.60,368.71 166.48,370.70C165.36,372.70 164.23,374.69 163.11,376.69C161.98,378.68 160.85,380.68 159.72,382.68C158.58,384.67 157.44,386.67 156.29,388.66C155.15,390.66 153.99,392.65 152.83,394.65C151.66,396.64 150.49,398.64 149.30,400.64C148.12,402.63 146.92,404.63 145.71,406.62C144.50,408.62 143.28,410.61 142.05,412.61C140.82,414.60 139.58,416.60 138.34,418.59C137.10,420.59 135.86,422.59 134.62,424.58C133.38,426.58 132.15,428.57 130.92,430.57C129.69,432.56 128.46,434.56 127.25,436.55C126.04,438.55 124.84,440.55 123.65,442.54C122.47,444.54 121.30,446.53 120.16,448.53C119.01,450.52 117.89,452.52 116.79,454.51C115.69,456.51 114.61,458.50 113.57,460.50" stroke="url(#g23)"/>
<path d="M184.89,239.00C184.84,241.00 184.80,242.99 184.77,244.99C184.75,246.98 184.73,248.98 184.72,250.97C184.71,252.97 184.71,254.96 184.72,256.96C184.72,258.95 184.73,260.95 184.74,262.95C184.76,264.94 184.77,266.94 184.79,268.93C184.80,270.93 184.82,272.92 184.83,274.92C184.84,276.91 184.85,278.91 184.86,280.91C184.86,282.90 184.86,284.90 184.85,286.89C184.84,288.89 184.82,290.88 184.79,292.88C184.77,294.87 184.73,296.87 184.67,298.86C184.62,300.86 184.56,302.86 184.47,304.85C184.39,306.85 184.29,308.84 184.18,310.84C184.06,312.83 183.92,314.83 183.77,316.82C183.62,318.82 183.46,320.82 183.28,322.81C183.11,324.81 182.93,326.80 182.74,328.80C182.55,330.79 182.36,332.79 182.17,334.78C181.98,336.78 181.78,338.77 181.60,340.77C181.41,342.77 181.23,344.76 181.06,346.76C180.89,348.75 180.73,350.75 180.59,352.74C180.44,354.74 180.32,356.73 180.21,358.73C180.10,360.73 180.01,362.72 179.95,364.72C179.88,366.71 179.85,368.71 179.84,370.70C179.83,372.70 179.84,374.69 179.86,376.69C179.88,378.68 179.91,380.68 179.93,382.68C179.94,384.67 179.95,386.67 179.93,388.66C179.90,390.66 179.85,392.65 179.75,394.65C179.65,396.64 179.51,398.64 179.30,400.64C179.10,402.63 178.83,404.63 178.47,406.62C178.12,408.62 177.69,410.61 177.17,412.61C176.64,414.60 176.04,416.60 175.36,418.59C174.68,420.59 173.93,422.59 173.12,424.58C172.30,426.58 171.42,428.57 170.49,430.57C169.56,432.56 168.57,434.56 167.54,436.55C166.51,438.55 165.43,440.55 164.32,442.54C163.21,444.54 162.06,446.53 160.89,448.53C159.71,450.52 158.51,452.52 157.30,454.51C156.08,456.51 154.85,458.50 153.62,460.50" stroke="url(#g24)"/>
<path d="M198.10,239.00C197.76,240.97 197.42,242.94 197.08,244.91C196.74,246.88 196.40,248.85 196.06,250.82C195.73,252.79 195.39,254.76 195.06,256.73C194.73,258.70 194.40,260.67 194.07,262.64C193.74,264.61 193.42,266.58 193.10,268.55C192.77,270.52 192.45,272.48 192.13,274.45C191.81,276.42 191.49,278.39 191.18,280.36C190.86,282.33 190.55,284.30 190.24,286.27C189.93,288.24 189.62,290.21 189.32,292.18C189.01,294.15 188.71,296.12 188.40,298.09C188.10,300.06 187.80,302.03 187.51,304.00C187.21,305.97 186.92,307.94 186.62,309.91C186.33,311.88 186.04,313.85 185.76,315.82C185.47,317.79 185.19,319.76 184.90,321.73C184.62,323.70 184.34,325.67 184.07,327.64C183.79,329.61 183.52,331.58 183.24,333.55C182.97,335.52 182.70,337.48 182.44,339.45C182.17,341.42 181.91,343.39 181.65,345.36C181.39,347.33 181.13,349.30 180.87,351.27C180.62,353.24 180.37,355.21 180.12,357.18C179.87,359.15 179.62,361.12 179.38,363.09C179.13,365.06 178.89,367.03 178.66,369.00C178.17,370.91 177.37,372.81 176.79,374.72C176.22,376.62 175.61,378.53 174.95,380.44C174.29,382.34 173.60,384.25 172.86,386.16C172.13,388.06 171.36,389.97 170.56,391.88C169.76,393.78 168.92,395.69 168.06,397.59C167.20,399.50 166.30,401.41 165.38,403.31C164.46,405.22 163.52,407.12 162.55,409.03C161.58,410.94 160.60,412.84 159.59,414.75C158.58,416.66 157.55,418.56 156.51,420.47C155.47,422.38 154.41,424.28 153.34,426.19C152.27,428.09 151.19,430.00 150.10,431.91C149.02,433.81 147.92,435.72 146.82,437.62C145.72,439.53 144.61,441.44 143.50,443.34C142.40,445.25 141.29,447.16 140.18,449.06C139.08,450.97 137.98,452.88 136.88,454.78C135.78,456.69 134.69,458.59 133.61,460.50" stroke="url(#g25)"/>
<path d="M220.25,239.00C219.92,240.95 219.58,242.90 219.25,244.85C218.91,246.79 218.57,248.74 218.24,250.69C217.90,252.64 217.56,254.59 217.22,256.54C216.88,258.48 216.53,260.43 216.19,262.38C215.85,264.33 215.50,266.28 215.16,268.23C214.81,270.17 214.46,272.12 214.11,274.07C213.77,276.02 213.41,277.97 213.06,279.92C212.71,281.86 212.36,283.81 212.00,285.76C211.65,287.71 211.29,289.66 210.93,291.61C210.57,293.55 210.21,295.50 209.85,297.45C209.48,299.40 209.12,301.35 208.75,303.30C208.39,305.25 208.02,307.19 207.65,309.14C207.28,311.09 206.91,313.04 206.53,314.99C206.16,316.94 205.78,318.88 205.40,320.83C205.02,322.78 204.64,324.73 204.26,326.68C203.87,328.63 203.49,330.57 203.10,332.52C202.71,334.47 202.32,336.42 201.93,338.37C201.54,340.32 201.14,342.26 200.74,344.21C200.35,346.16 199.94,348.11 199.54,350.06C199.14,352.01 198.73,353.95 198.32,355.90C197.92,357.85 197.50,359.80 197.09,361.75C196.68,363.70 196.26,365.65 195.84,367.59C195.42,369.54 195.01,371.49 194.59,373.44C194.17,375.39 193.75,377.34 193.34,379.28C192.92,381.23 192.51,383.18 192.10,385.13C191.69,387.08 191.28,389.03 190.88,390.97C190.48,392.92 190.09,394.87 189.70,396.82C189.31,398.77 188.93,400.72 188.55,402.66C188.18,404.61 187.82,406.56 187.46,408.51C187.11,410.46 186.76,412.41 186.43,414.35C186.10,416.30 185.77,418.25 185.47,420.20C185.63,422.12 185.70,424.04 185.63,425.96C185.56,427.88 185.37,429.80 185.08,431.71C184.78,433.63 184.38,435.55 183.89,437.47C183.39,439.39 182.80,441.31 182.12,443.23C181.44,445.15 180.67,447.07 179.83,448.99C178.98,450.90 178.06,452.82 177.07,454.74C176.07,456.66 175.01,458.58 173.89,460.50" stroke="url(#g26)"/>
<path d="M245.09,239.00C244.66,240.96 244.23,242.93 243.81,244.89C243.38,246.86 242.96,248.82 242.54,250.79C242.12,252.75 241.70,254.72 241.28,256.68C240.87,258.65 240.45,260.61 240.04,262.58C239.62,264.54 239.21,266.51 238.80,268.47C238.38,270.44 237.97,272.40 237.56,274.37C237.14,276.33 236.73,278.30 236.31,280.26C235.89,282.22 235.47,284.19 235.05,286.15C234.63,288.12 234.21,290.08 233.78,292.05C233.36,294.01 232.93,295.98 232.50,297.94C232.07,299.91 231.64,301.87 231.20,303.84C230.77,305.80 230.34,307.77 229.90,309.73C229.46,311.70 229.02,313.66 228.58,315.63C228.14,317.59 227.70,319.56 227.26,321.52C226.82,323.48 226.38,325.45 225.93,327.41C225.49,329.38 225.04,331.34 224.60,333.31C224.15,335.27 223.71,337.24 223.26,339.20C222.81,341.17 222.37,343.13 221.92,345.10C221.48,347.06 221.03,349.03 220.58,350.99C220.13,352.96 219.69,354.92 219.24,356.89C218.79,358.85 218.34,360.82 217.89,362.78C217.45,364.74 217.00,366.71 216.55,368.67C216.10,370.64 215.65,372.60 215.20,374.57C214.75,376.53 214.29,378.50 213.84,380.46C213.39,382.43 212.93,384.39 212.47,386.36C212.02,388.32 211.56,390.29 211.10,392.25C210.64,394.22 210.18,396.18 209.71,398.15C209.25,400.11 208.78,402.08 208.31,404.04C207.85,406.00 207.37,407.97 206.90,409.93C206.43,411.90 205.95,413.86 205.47,415.83C204.99,417.79 204.51,419.76 204.02,421.72C203.53,423.69 203.04,425.65 202.55,427.62C202.06,429.58 201.56,431.55 201.06,433.51C200.56,435.48 200.05,437.44 199.54,439.41C199.04,441.37 198.52,443.34 198.00,445.30C197.68,446.99 197.30,448.68 196.87,450.37C196.44,452.06 195.95,453.74 195.41,455.43C194.86,457.12 194.26,458.81 193.60,460.50" stroke="url(#g27)"/>
<path d="M270.29,239.00C269.76,240.95 269.24,242.90 268.72,244.85C268.21,246.80 267.69,248.75 267.18,250.70C266.67,252.65 266.17,254.60 265.67,256.55C265.16,258.50 264.66,260.45 264.17,262.39C263.67,264.34 263.17,266.29 262.68,268.24C262.19,270.19 261.70,272.14 261.22,274.09C260.73,276.04 260.25,277.99 259.76,279.94C259.28,281.89 258.80,283.84 258.32,285.79C257.85,287.74 257.37,289.69 256.89,291.64C256.42,293.59 255.94,295.54 255.47,297.49C255.00,299.44 254.52,301.39 254.05,303.34C253.58,305.28 253.11,307.23 252.64,309.18C252.17,311.13 251.70,313.08 251.23,315.03C250.76,316.98 250.29,318.93 249.82,320.88C249.35,322.83 248.88,324.78 248.41,326.73C247.94,328.68 247.46,330.63 246.99,332.58C246.52,334.53 246.05,336.48 245.57,338.43C245.10,340.38 244.62,342.33 244.14,344.28C243.66,346.23 243.18,348.17 242.70,350.12C242.22,352.07 241.74,354.02 241.25,355.97C240.77,357.92 240.28,359.87 239.79,361.82C239.30,363.77 238.81,365.72 238.31,367.67C237.82,369.62 237.32,371.57 236.82,373.52C236.32,375.47 235.82,377.42 235.31,379.37C234.81,381.32 234.30,383.27 233.79,385.22C233.28,387.17 232.77,389.12 232.26,391.06C231.74,393.01 231.23,394.96 230.71,396.91C230.19,398.86 229.67,400.81 229.14,402.76C228.62,404.71 228.09,406.66 227.57,408.61C227.04,410.56 226.51,412.51 225.98,414.46C225.44,416.41 224.91,418.36 224.37,420.31C223.84,422.26 223.30,424.21 222.76,426.16C222.21,428.11 221.67,430.06 221.13,432.01C220.58,433.95 220.03,435.90 219.48,437.85C218.93,439.80 218.38,441.75 217.83,443.70C217.27,445.65 216.72,447.60 216.16,449.55C215.60,451.50 215.04,453.45 214.48,455.40C214.01,457.10 213.67,458.80 213.20,460.50" stroke="url(#g28)"/>
<path d="M295.39,239.00C294.75,241.00 294.12,242.99 293.49,244.99C292.87,246.98 292.26,248.98 291.65,250.97C291.04,252.97 290.44,254.96 289.85,256.96C289.26,258.95 288.67,260.95 288.09,262.95C287.51,264.94 286.94,266.94 286.37,268.93C285.81,270.93 285.25,272.92 284.69,274.92C284.14,276.91 283.59,278.91 283.04,280.91C282.50,282.90 281.96,284.90 281.42,286.89C280.89,288.89 280.36,290.88 279.83,292.88C279.30,294.87 278.78,296.87 278.26,298.86C277.74,300.86 277.22,302.86 276.71,304.85C276.19,306.85 275.68,308.84 275.17,310.84C274.66,312.83 274.16,314.83 273.65,316.82C273.15,318.82 272.64,320.82 272.14,322.81C271.64,324.81 271.14,326.80 270.64,328.80C270.14,330.79 269.64,332.79 269.14,334.78C268.64,336.78 268.14,338.77 267.64,340.77C267.14,342.77 266.64,344.76 266.14,346.76C265.63,348.75 265.13,350.75 264.63,352.74C264.12,354.74 263.62,356.73 263.11,358.73C262.60,360.73 262.09,362.72 261.58,364.72C261.06,366.71 260.55,368.71 260.03,370.70C259.51,372.70 258.99,374.69 258.46,376.69C257.94,378.68 257.41,380.68 256.87,382.68C256.34,384.67 255.80,386.67 255.26,388.66C254.72,390.66 254.17,392.65 253.62,394.65C253.06,396.64 252.51,398.64 251.94,400.64C251.38,402.63 250.81,404.63 250.23,406.62C249.65,408.62 249.07,410.61 248.48,412.61C247.89,414.60 247.29,416.60 246.69,418.59C246.08,420.59 245.47,422.59 244.85,424.58C244.23,426.58 243.60,428.57 242.96,430.57C242.33,432.56 241.68,434.56 241.03,436.55C240.37,438.55 239.71,440.55 239.04,442.54C238.36,444.54 237.68,446.53 236.98,448.53C236.29,450.52 235.59,452.52 234.87,454.51C234.16,456.51 233.43,458.50 232.70,460.50" stroke="url(#g29)"/>
<path d="M320.50,239.00C319.86,241.00 319.22,242.99 318.59,244.99C317.96,246.98 317.33,248.98 316.70,250.97C316.07,252.97 315.44,254.96 314.82,256.96C314.20,258.95 313.58,260.95 312.96,262.95C312.34,264.94 311.72,266.94 311.11,268.93C310.50,270.93 309.89,272.92 309.28,274.92C308.67,276.91 308.06,278.91 307.46,280.91C306.86,282.90 306.25,284.90 305.65,286.89C305.05,288.89 304.46,290.88 303.86,292.88C303.27,294.87 302.67,296.87 302.08,298.86C301.49,300.86 300.90,302.86 300.31,304.85C299.72,306.85 299.13,308.84 298.55,310.84C297.97,312.83 297.38,314.83 296.80,316.82C296.22,318.82 295.64,320.82 295.06,322.81C294.48,324.81 293.91,326.80 293.33,328.80C292.76,330.79 292.18,332.79 291.61,334.78C291.04,336.78 290.46,338.77 289.90,340.77C289.34,342.77 288.79,344.76 288.25,346.76C287.70,348.75 287.17,350.75 286.62,352.74C286.08,354.74 285.52,356.73 284.95,358.73C284.39,360.73 283.80,362.72 283.21,364.72C282.63,366.71 282.04,368.71 281.45,370.70C280.86,372.70 280.26,374.69 279.67,376.69C279.07,378.68 278.47,380.68 277.87,382.68C277.27,384.67 276.66,386.67 276.06,388.66C275.45,390.66 274.84,392.65 274.22,394.65C273.61,396.64 272.99,398.64 272.37,400.64C271.75,402.63 271.13,404.63 270.50,406.62C269.87,408.62 269.24,410.61 268.61,412.61C267.98,414.60 267.34,416.60 266.70,418.59C266.05,420.59 265.41,422.59 264.76,424.58C264.11,426.58 263.46,428.57 262.80,430.57C262.14,432.56 261.48,434.56 260.81,436.55C260.15,438.55 259.48,440.55 258.80,442.54C258.13,444.54 257.45,446.53 256.76,448.53C256.08,450.52 255.39,452.52 254.70,454.51C254.00,456.51 253.30,458.50 252.60,460.50" stroke="url(#g30)"/>
</g>
<g clip-path="url(#cd)" fill="none" stroke-width="1.80" stroke-linecap="butt" stroke-linejoin="round">
<path d="M759.76,244.00C746.02,245.95 734.12,247.90 723.63,249.85C713.13,251.80 704.02,253.75 695.87,255.70C687.72,257.65 680.55,259.60 674.07,261.55C667.59,263.50 661.80,265.45 656.44,267.41C651.07,269.36 646.12,271.31 641.30,273.26C636.49,275.21 631.79,277.16 627.26,279.11C622.73,281.06 618.35,283.01 614.16,284.96C609.97,286.91 605.98,288.86 602.20,290.81C598.43,292.76 594.88,294.71 591.58,296.66C588.29,298.61 585.26,300.56 582.42,302.51C579.57,304.46 576.91,306.41 574.34,308.36C571.76,310.32 569.27,312.27 566.82,314.22C564.37,316.17 561.98,318.12 559.63,320.07C557.28,322.02 554.99,323.97 552.74,325.92C550.50,327.87 548.31,329.82 546.18,331.77C544.05,333.72 541.97,335.67 539.94,337.62C537.92,339.57 535.95,341.52 534.04,343.47C532.12,345.42 530.26,347.37 528.44,349.32C526.63,351.27 524.86,353.23 523.13,355.18C521.40,357.13 519.72,359.08 518.07,361.03C516.42,362.98 514.82,364.93 513.24,366.88C511.67,368.83 510.12,370.78 508.61,372.73C507.10,374.68 505.62,376.63 504.16,378.58C502.70,380.53 501.27,382.48 499.85,384.43C498.44,386.38 497.05,388.33 495.67,390.28C494.29,392.23 492.93,394.18 491.59,396.14C490.24,398.09 488.91,400.04 487.60,401.99C486.28,403.94 484.98,405.89 483.70,407.84C482.41,409.79 481.14,411.74 479.88,413.69C478.62,415.64 477.38,417.59 476.15,419.54C474.91,421.49 473.69,423.44 472.48,425.39C471.27,427.34 470.08,429.29 468.89,431.24C467.70,433.19 466.53,435.14 465.36,437.09C464.19,439.05 463.03,441.00 461.89,442.95C460.74,444.90 459.60,446.85 458.47,448.80C457.34,450.75 456.21,452.70 455.10,454.65C453.98,456.60 452.87,458.55 451.77,460.50" stroke="url(#g31)"/>
<path d="M759.41,240.20C747.26,242.18 736.24,244.17 726.19,246.15C716.14,248.14 707.06,250.12 698.78,252.11C690.51,254.09 683.04,256.08 676.24,258.06C669.43,260.05 663.27,262.03 657.64,264.02C652.01,266.00 646.91,267.99 642.23,269.97C637.54,271.95 633.26,273.94 629.31,275.92C625.37,277.91 621.76,279.89 618.43,281.88C615.11,283.86 612.05,285.85 609.21,287.83C606.37,289.82 603.74,291.80 601.26,293.79C598.77,295.77 596.44,297.76 594.19,299.74C591.94,301.73 589.76,303.71 587.63,305.69C585.49,307.68 583.39,309.66 581.33,311.65C579.28,313.63 577.26,315.62 575.27,317.60C573.28,319.59 571.33,321.57 569.40,323.56C567.47,325.54 565.56,327.53 563.69,329.51C561.81,331.50 559.96,333.48 558.14,335.46C556.32,337.45 554.52,339.43 552.75,341.42C550.98,343.40 549.24,345.39 547.52,347.37C545.81,349.36 544.12,351.34 542.45,353.33C540.79,355.31 539.15,357.30 537.54,359.28C535.93,361.27 534.35,363.25 532.79,365.24C531.23,367.22 529.69,369.20 528.19,371.19C526.68,373.17 525.20,375.16 523.74,377.14C522.29,379.13 520.86,381.11 519.46,383.10C518.05,385.08 516.68,387.07 515.33,389.05C513.97,391.04 512.65,393.02 511.34,395.01C510.04,396.99 508.75,398.97 507.49,400.96C506.22,402.94 504.97,404.93 503.74,406.91C502.51,408.90 501.29,410.88 500.08,412.87C498.88,414.85 497.69,416.84 496.50,418.82C495.32,420.81 494.14,422.79 492.97,424.78C491.80,426.76 490.64,428.75 489.47,430.73C488.31,432.71 487.15,434.70 485.99,436.68C484.83,438.67 483.67,440.65 482.50,442.64C481.33,444.62 480.16,446.61 478.99,448.59C477.81,450.58 476.63,452.56 475.43,454.55C474.24,456.53 473.03,458.52 471.81,460.50" stroke="url(#g32)"/>
<path d="M678.82,239.00C675.71,241.00 672.68,242.99 669.70,244.99C666.72,246.98 663.80,248.98 660.94,250.97C658.07,252.97 655.27,254.96 652.52,256.96C649.78,258.95 647.08,260.95 644.45,262.95C641.81,264.94 639.23,266.94 636.70,268.93C634.16,270.93 631.69,272.92 629.26,274.92C626.83,276.91 624.45,278.91 622.12,280.91C619.79,282.90 617.51,284.90 615.28,286.89C613.05,288.89 610.86,290.88 608.72,292.88C606.57,294.87 604.48,296.87 602.42,298.86C600.37,300.86 598.36,302.86 596.38,304.85C594.41,306.85 592.48,308.84 590.59,310.84C588.70,312.83 586.85,314.83 585.04,316.82C583.22,318.82 581.45,320.82 579.71,322.81C577.97,324.81 576.26,326.80 574.59,328.80C572.92,330.79 571.28,332.79 569.67,334.78C568.06,336.78 566.49,338.77 564.94,340.77C563.40,342.77 561.88,344.76 560.39,346.76C558.90,348.75 557.44,350.75 556.01,352.74C554.57,354.74 553.17,356.73 551.78,358.73C550.39,360.73 549.03,362.72 547.69,364.72C546.35,366.71 545.03,368.71 543.74,370.70C542.44,372.70 541.16,374.69 539.90,376.69C538.63,378.68 537.39,380.68 536.16,382.68C534.93,384.67 533.72,386.67 532.52,388.66C531.32,390.66 530.13,392.65 528.96,394.65C527.79,396.64 526.62,398.64 525.47,400.64C524.31,402.63 523.17,404.63 522.03,406.62C520.90,408.62 519.77,410.61 518.64,412.61C517.52,414.60 516.40,416.60 515.28,418.59C514.17,420.59 513.06,422.59 511.95,424.58C510.83,426.58 509.72,428.57 508.61,430.57C507.50,432.56 506.39,434.56 505.28,436.55C504.16,438.55 503.05,440.55 501.93,442.54C500.81,444.54 499.68,446.53 498.55,448.53C497.41,450.52 496.27,452.52 495.12,454.51C493.97,456.51 492.82,458.50 491.65,460.50" stroke="url(#g33)"/>
<path d="M604.78,239.00C604.47,241.00 604.13,242.99 603.76,244.99C603.39,246.98 603.00,248.98 602.58,250.97C602.16,252.97 601.72,254.96 601.25,256.96C600.79,258.95 600.30,260.95 599.79,262.95C599.28,264.94 598.74,266.94 598.19,268.93C597.63,270.93 597.05,272.92 596.46,274.92C595.86,276.91 595.24,278.91 594.60,280.91C593.97,282.90 593.31,284.90 592.64,286.89C591.96,288.89 591.27,290.88 590.56,292.88C589.85,294.87 589.12,296.87 588.37,298.86C587.63,300.86 586.87,302.86 586.09,304.85C585.32,306.85 584.52,308.84 583.72,310.84C582.91,312.83 582.09,314.83 581.26,316.82C580.43,318.82 579.58,320.82 578.72,322.81C577.86,324.81 576.99,326.80 576.11,328.80C575.23,330.79 574.33,332.79 573.43,334.78C572.52,336.78 571.61,338.77 570.69,340.77C569.76,342.77 568.83,344.76 567.89,346.76C566.95,348.75 566.00,350.75 565.04,352.74C564.08,354.74 563.12,356.73 562.15,358.73C561.18,360.73 560.21,362.72 559.22,364.72C558.24,366.71 557.26,368.71 556.27,370.70C555.28,372.70 554.28,374.69 553.28,376.69C552.29,378.68 551.28,380.68 550.28,382.68C549.28,384.67 548.27,386.67 547.27,388.66C546.26,390.66 545.25,392.65 544.24,394.65C543.24,396.64 542.23,398.64 541.22,400.64C540.22,402.63 539.21,404.63 538.21,406.62C537.20,408.62 536.20,410.61 535.20,412.61C534.20,414.60 533.21,416.60 532.21,418.59C531.22,420.59 530.23,422.59 529.25,424.58C528.27,426.58 527.29,428.57 526.32,430.57C525.35,432.56 524.38,434.56 523.42,436.55C522.46,438.55 521.51,440.55 520.56,442.54C519.62,444.54 518.68,446.53 517.76,448.53C516.83,450.52 515.91,452.52 515.00,454.51C514.10,456.51 513.20,458.50 512.31,460.50" stroke="url(#g34)"/>
<path d="M562.14,239.00C562.05,241.00 561.97,242.99 561.91,244.99C561.84,246.98 561.79,248.98 561.74,250.97C561.70,252.97 561.67,254.96 561.64,256.96C561.62,258.95 561.61,260.95 561.60,262.95C561.59,264.94 561.60,266.94 561.60,268.93C561.61,270.93 561.63,272.92 561.65,274.92C561.66,276.91 561.69,278.91 561.71,280.91C561.74,282.90 561.77,284.90 561.80,286.89C561.83,288.89 561.87,290.88 561.90,292.88C561.93,294.87 561.96,296.87 562.00,298.86C562.03,300.86 562.06,302.86 562.08,304.85C562.11,306.85 562.14,308.84 562.16,310.84C562.17,312.83 562.19,314.83 562.20,316.82C562.21,318.82 562.21,320.82 562.20,322.81C562.20,324.81 562.19,326.80 562.16,328.80C562.14,330.79 562.11,332.79 562.07,334.78C562.03,336.78 561.97,338.77 561.91,340.77C561.84,342.77 561.77,344.76 561.67,346.76C561.58,348.75 561.48,350.75 561.36,352.74C561.24,354.74 561.10,356.73 560.95,358.73C560.80,360.73 560.63,362.72 560.44,364.72C560.25,366.71 560.04,368.71 559.82,370.70C559.59,372.70 559.34,374.69 559.08,376.69C558.81,378.68 558.52,380.68 558.20,382.68C557.89,384.67 557.56,386.67 557.20,388.66C556.84,390.66 556.45,392.65 556.04,394.65C555.63,396.64 555.20,398.64 554.73,400.64C554.27,402.63 553.78,404.63 553.26,406.62C552.74,408.62 552.19,410.61 551.61,412.61C551.04,414.60 550.43,416.60 549.79,418.59C549.15,420.59 548.48,422.59 547.77,424.58C547.07,426.58 546.33,428.57 545.56,430.57C544.79,432.56 543.98,434.56 543.14,436.55C542.30,438.55 541.42,440.55 540.51,442.54C539.59,444.54 538.64,446.53 537.65,448.53C536.66,450.52 535.63,452.52 534.56,454.51C533.49,456.51 532.38,458.50 531.22,460.50" stroke="url(#g35)"/>
<path d="M573.06,239.00C573.02,240.98 572.96,242.96 572.89,244.95C572.83,246.93 572.75,248.91 572.67,250.89C572.59,252.88 572.50,254.86 572.40,256.84C572.30,258.82 572.20,260.81 572.08,262.79C571.97,264.77 571.86,266.75 571.73,268.73C571.61,270.72 571.48,272.70 571.35,274.68C571.22,276.66 571.08,278.65 570.95,280.63C570.81,282.61 570.66,284.59 570.52,286.57C570.38,288.56 570.23,290.54 570.08,292.52C569.93,294.50 569.78,296.49 569.63,298.47C569.48,300.45 569.32,302.43 569.17,304.42C569.01,306.40 568.85,308.38 568.69,310.36C568.53,312.34 568.37,314.33 568.20,316.31C568.04,318.29 567.87,320.27 567.70,322.26C567.53,324.24 567.36,326.22 567.19,328.20C567.02,330.19 566.84,332.17 566.67,334.15C566.49,336.13 566.31,338.11 566.13,340.10C565.95,342.08 565.77,344.06 565.58,346.04C565.40,348.03 565.21,350.01 565.02,351.99C564.83,353.97 564.64,355.96 564.45,357.94C564.26,359.92 564.06,361.90 563.87,363.88C563.67,365.87 563.47,367.85 563.28,369.83C563.08,371.81 562.89,373.80 562.69,375.78C562.50,377.76 562.31,379.74 562.13,381.73C561.94,383.71 561.76,385.69 561.59,387.67C561.41,389.65 561.24,391.64 561.08,393.62C560.93,395.60 560.77,397.58 560.63,399.57C560.49,401.55 560.36,403.53 560.24,405.51C560.12,407.49 560.02,409.48 559.92,411.46C559.83,413.44 559.75,415.42 559.69,417.41C559.62,419.39 559.57,421.37 559.54,423.35C559.51,425.34 559.50,427.32 559.51,429.30C559.50,431.03 559.45,432.77 559.28,434.50C559.11,436.23 558.83,437.97 558.39,439.70C557.95,441.43 557.41,443.17 556.85,444.90C556.30,446.63 555.78,448.37 555.19,450.10C554.61,451.83 553.97,453.57 553.28,455.30C552.60,457.03 551.87,458.77 551.10,460.50" stroke="url(#g36)"/>
<path d="M593.95,239.00C593.87,240.99 593.79,242.99 593.71,244.98C593.62,246.98 593.54,248.97 593.45,250.97C593.37,252.96 593.28,254.96 593.19,256.95C593.10,258.94 593.00,260.94 592.91,262.93C592.81,264.93 592.71,266.92 592.60,268.92C592.50,270.91 592.39,272.91 592.28,274.90C592.16,276.89 592.05,278.89 591.92,280.88C591.80,282.88 591.67,284.87 591.54,286.87C591.40,288.86 591.26,290.86 591.11,292.85C590.97,294.84 590.82,296.84 590.67,298.83C590.51,300.83 590.36,302.82 590.20,304.82C590.04,306.81 589.88,308.81 589.73,310.80C589.57,312.79 589.41,314.79 589.25,316.78C589.10,318.78 588.94,320.77 588.78,322.77C588.62,324.76 588.46,326.76 588.29,328.75C588.13,330.74 587.96,332.74 587.79,334.73C587.62,336.73 587.44,338.72 587.26,340.72C587.08,342.71 586.89,344.71 586.70,346.70C586.51,348.69 586.31,350.69 586.10,352.68C585.90,354.68 585.68,356.67 585.46,358.67C585.24,360.66 585.01,362.66 584.77,364.65C584.53,366.64 584.28,368.64 584.02,370.63C583.77,372.63 583.50,374.62 583.23,376.62C582.97,378.61 582.69,380.61 582.41,382.60C582.13,384.59 581.85,386.59 581.56,388.58C581.28,390.58 580.99,392.57 580.70,394.57C580.40,396.56 580.11,398.56 579.81,400.55C579.52,402.54 579.22,404.54 578.93,406.53C578.63,408.53 578.34,410.52 578.05,412.52C577.75,414.51 577.46,416.51 577.17,418.50C576.89,420.49 576.60,422.49 576.32,424.48C576.04,426.48 575.76,428.47 575.49,430.47C575.22,432.46 574.96,434.46 574.70,436.45C574.44,438.44 574.19,440.44 573.94,442.43C573.70,444.43 573.47,446.42 573.24,448.42C573.01,450.41 572.80,452.41 572.59,454.40C572.43,455.42 572.27,456.43 572.10,457.45C571.93,458.47 571.77,459.48 571.60,460.50" stroke="url(#g37)"/>
<path d="M616.34,239.00C616.25,241.00 616.16,242.99 616.06,244.99C615.96,246.98 615.86,248.98 615.75,250.97C615.65,252.97 615.54,254.96 615.42,256.96C615.31,258.95 615.19,260.95 615.06,262.95C614.94,264.94 614.81,266.94 614.68,268.93C614.55,270.93 614.41,272.92 614.27,274.92C614.13,276.91 613.98,278.91 613.83,280.91C613.69,282.90 613.53,284.90 613.38,286.89C613.22,288.89 613.06,290.88 612.89,292.88C612.73,294.87 612.56,296.87 612.39,298.86C612.22,300.86 612.04,302.86 611.86,304.85C611.68,306.85 611.50,308.84 611.31,310.84C611.12,312.83 610.93,314.83 610.74,316.82C610.54,318.82 610.35,320.82 610.14,322.81C609.94,324.81 609.74,326.80 609.53,328.80C609.32,330.79 609.11,332.79 608.89,334.78C608.68,336.78 608.46,338.77 608.23,340.77C608.01,342.77 607.79,344.76 607.56,346.76C607.33,348.75 607.09,350.75 606.86,352.74C606.62,354.74 606.38,356.73 606.14,358.73C605.90,360.73 605.66,362.72 605.41,364.72C605.16,366.71 604.91,368.71 604.65,370.70C604.40,372.70 604.14,374.69 603.88,376.69C603.62,378.68 603.36,380.68 603.09,382.68C602.82,384.67 602.55,386.67 602.28,388.66C602.01,390.66 601.73,392.65 601.46,394.65C601.18,396.64 600.90,398.64 600.62,400.64C600.33,402.63 600.05,404.63 599.76,406.62C599.47,408.62 599.18,410.61 598.88,412.61C598.59,414.60 598.29,416.60 598.00,418.59C597.70,420.59 597.40,422.59 597.09,424.58C596.79,426.58 596.48,428.57 596.17,430.57C595.86,432.56 595.55,434.56 595.24,436.55C594.93,438.55 594.61,440.55 594.29,442.54C593.98,444.54 593.66,446.53 593.33,448.53C593.01,450.52 592.69,452.52 592.36,454.51C592.03,456.51 591.70,458.50 591.37,460.50" stroke="url(#g38)"/>
</g>
<line x1="432.1" y1="460.3" x2="432.9" y2="459.0" stroke="#fdc328" stroke-width="1.6"/>
<g id="frame"><line x1="53.85" y1="17.00" x2="53.85" y2="461.00" stroke="#000" stroke-width="0.90"/><line x1="392.40" y1="17.00" x2="392.40" y2="461.00" stroke="#000" stroke-width="1.35"/><line x1="730.50" y1="17.00" x2="730.50" y2="461.00" stroke="#000" stroke-width="1.00"/><line x1="53.50" y1="17.50" x2="731.00" y2="17.50" stroke="#000" stroke-width="1.00"/><line x1="53.50" y1="239.00" x2="731.00" y2="239.00" stroke="#000" stroke-width="1.00"/><line x1="53.50" y1="460.50" x2="731.00" y2="460.50" stroke="#000" stroke-width="1.00"/></g>
<g id="ticks"><line x1="73.90" y1="17.50" x2="73.90" y2="20.50" stroke="#000" stroke-width="0.60"/><line x1="73.90" y1="236.00" x2="73.90" y2="242.00" stroke="#000" stroke-width="0.60"/><line x1="73.90" y1="457.50" x2="73.90" y2="460.50" stroke="#000" stroke-width="0.60"/><line x1="113.70" y1="17.50" x2="113.70" y2="20.50" stroke="#000" stroke-width="0.60"/><line x1="113.70" y1="236.00" x2="113.70" y2="242.00" stroke="#000" stroke-width="0.60"/><line x1="113.70" y1="457.50" x2="113.70" y2="460.50" stroke="#000" stroke-width="0.60"/><line x1="153.50" y1="17.50" x2="153.50" y2="20.50" stroke="#000" stroke-width="0.60"/><line x1="153.50" y1="236.00" x2="153.50" y2="242.00" stroke="#000" stroke-width="0.60"/><line x1="153.50" y1="457.50" x2="153.50" y2="460.50" stroke="#000" stroke-width="0.60"/><line x1="193.30" y1="17.50" x2="193.30" y2="20.50" stroke="#000" stroke-width="0.60"/><line x1="193.30" y1="236.00" x2="193.30" y2="242.00" stroke="#000" stroke-width="0.60"/><line x1="193.30" y1="457.50" x2="193.30" y2="460.50" stroke="#000" stroke-width="0.60"/><line x1="233.10" y1="17.50" x2="233.10" y2="20.50" stroke="#000" stroke-width="0.60"/><line x1="233.10" y1="236.00" x2="233.10" y2="242.00" stroke="#000" stroke-width="0.60"/><line x1="233.10" y1="457.50" x2="233.10" y2="460.50" stroke="#000" stroke-width="0.60"/><line x1="272.90" y1="17.50" x2="272.90" y2="20.50" stroke="#000" stroke-width="0.60"/><line x1="272.90" y1="236.00" x2="272.90" y2="242.00" stroke="#000" stroke-width="0.60"/><line x1="272.90" y1="457.50" x2="272.90" y2="460.50" stroke="#000" stroke-width="0.60"/><line x1="312.70" y1="17.50" x2="312.70" y2="20.50" stroke="#000" stroke-width="0.60"/><line x1="312.70" y1="236.00" x2="312.70" y2="242.00" stroke="#000" stroke-width="0.60"/><line x1="312.70" y1="457.50" x2="312.70" y2="460.50" stroke="#000" stroke-width="0.60"/><line x1="352.50" y1="17.50" x2="352.50" y2="20.50" stroke="#000" stroke-width="0.60"/><line x1="352.50" y1="236.00" x2="352.50" y2="242.00" stroke="#000" stroke-width="0.60"/><line x1="352.50" y1="457.50" x2="352.50" y2="460.50" stroke="#000" stroke-width="0.60"/><line x1="392.30" y1="17.50" x2="392.30" y2="20.50" stroke="#000" stroke-width="0.60"/><line x1="392.30" y1="236.00" x2="392.30" y2="242.00" stroke="#000" stroke-width="0.60"/><line x1="392.30" y1="457.50" x2="392.30" y2="460.50" stroke="#000" stroke-width="0.60"/><line x1="412.30" y1="17.50" x2="412.30" y2="20.50" stroke="#000" stroke-width="0.60"/><line x1="412.30" y1="236.00" x2="412.30" y2="242.00" stroke="#000" stroke-width="0.60"/><line x1="412.30" y1="457.50" x2="412.30" y2="460.50" stroke="#000" stroke-width="0.60"/><line x1="452.10" y1="17.50" x2="452.10" y2="20.50" stroke="#000" stroke-width="0.60"/><line x1="452.10" y1="236.00" x2="452.10" y2="242.00" stroke="#000" stroke-width="0.60"/><line x1="452.10" y1="457.50" x2="452.10" y2="460.50" stroke="#000" stroke-width="0.60"/><line x1="491.90" y1="17.50" x2="491.90" y2="20.50" stroke="#000" stroke-width="0.60"/><line x1="491.90" y1="236.00" x2="491.90" y2="242.00" stroke="#000" stroke-width="0.60"/><line x1="491.90" y1="457.50" x2="491.90" y2="460.50" stroke="#000" stroke-width="0.60"/><line x1="531.70" y1="17.50" x2="531.70" y2="20.50" stroke="#000" stroke-width="0.60"/><line x1="531.70" y1="236.00" x2="531.70" y2="242.00" stroke="#000" stroke-width="0.60"/><line x1="531.70" y1="457.50" x2="531.70" y2="460.50" stroke="#000" stroke-width="0.60"/><line x1="571.50" y1="17.50" x2="571.50" y2="20.50" stroke="#000" stroke-width="0.60"/><line x1="571.50" y1="236.00" x2="571.50" y2="242.00" stroke="#000" stroke-width="0.60"/><line x1="571.50" y1="457.50" x2="571.50" y2="460.50" stroke="#000" stroke-width="0.60"/><line x1="611.30" y1="17.50" x2="611.30" y2="20.50" stroke="#000" stroke-width="0.60"/><line x1="611.30" y1="236.00" x2="611.30" y2="242.00" stroke="#000" stroke-width="0.60"/><line x1="611.30" y1="457.50" x2="611.30" y2="460.50" stroke="#000" stroke-width="0.60"/><line x1="651.10" y1="17.50" x2="651.10" y2="20.50" stroke="#000" stroke-width="0.60"/><line x1="651.10" y1="236.00" x2="651.10" y2="242.00" stroke="#000" stroke-width="0.60"/><line x1="651.10" y1="457.50" x2="651.10" y2="460.50" stroke="#000" stroke-width="0.60"/><line x1="690.90" y1="17.50" x2="690.90" y2="20.50" stroke="#000" stroke-width="0.60"/><line x1="690.90" y1="236.00" x2="690.90" y2="242.00" stroke="#000" stroke-width="0.60"/><line x1="690.90" y1="457.50" x2="690.90" y2="460.50" stroke="#000" stroke-width="0.60"/><line x1="730.70" y1="17.50" x2="730.70" y2="20.50" stroke="#000" stroke-width="0.60"/><line x1="730.70" y1="236.00" x2="730.70" y2="242.00" stroke="#000" stroke-width="0.60"/><line x1="730.70" y1="457.50" x2="730.70" y2="460.50" stroke="#000" stroke-width="0.60"/><line x1="54.00" y1="239.00" x2="57.00" y2="239.00" stroke="#000" stroke-width="0.60"/><line x1="389.40" y1="239.00" x2="395.40" y2="239.00" stroke="#000" stroke-width="0.60"/><line x1="727.50" y1="239.00" x2="730.50" y2="239.00" stroke="#000" stroke-width="0.60"/><line x1="54.00" y1="194.70" x2="57.00" y2="194.70" stroke="#000" stroke-width="0.60"/><line x1="389.40" y1="194.70" x2="395.40" y2="194.70" stroke="#000" stroke-width="0.60"/><line x1="727.50" y1="194.70" x2="730.50" y2="194.70" stroke="#000" stroke-width="0.60"/><line x1="54.00" y1="150.40" x2="57.00" y2="150.40" stroke="#000" stroke-width="0.60"/><line x1="389.40" y1="150.40" x2="395.40" y2="150.40" stroke="#000" stroke-width="0.60"/><line x1="727.50" y1="150.40" x2="730.50" y2="150.40" stroke="#000" stroke-width="0.60"/><line x1="54.00" y1="106.10" x2="57.00" y2="106.10" stroke="#000" stroke-width="0.60"/><line x1="389.40" y1="106.10" x2="395.40" y2="106.10" stroke="#000" stroke-width="0.60"/><line x1="727.50" y1="106.10" x2="730.50" y2="106.10" stroke="#000" stroke-width="0.60"/><line x1="54.00" y1="61.80" x2="57.00" y2="61.80" stroke="#000" stroke-width="0.60"/><line x1="389.40" y1="61.80" x2="395.40" y2="61.80" stroke="#000" stroke-width="0.60"/><line x1="727.50" y1="61.80" x2="730.50" y2="61.80" stroke="#000" stroke-width="0.60"/><line x1="54.00" y1="17.50" x2="57.00" y2="17.50" stroke="#000" stroke-width="0.60"/><line x1="389.40" y1="17.50" x2="395.40" y2="17.50" stroke="#000" stroke-width="0.60"/><line x1="727.50" y1="17.50" x2="730.50" y2="17.50" stroke="#000" stroke-width="0.60"/><line x1="54.00" y1="460.50" x2="57.00" y2="460.50" stroke="#000" stroke-width="0.60"/><line x1="389.40" y1="460.50" x2="395.40" y2="460.50" stroke="#000" stroke-width="0.60"/><line x1="727.50" y1="460.50" x2="730.50" y2="460.50" stroke="#000" stroke-width="0.60"/><line x1="54.00" y1="416.20" x2="57.00" y2="416.20" stroke="#000" stroke-width="0.60"/><line x1="389.40" y1="416.20" x2="395.40" y2="416.20" stroke="#000" stroke-width="0.60"/><line x1="727.50" y1="416.20" x2="730.50" y2="416.20" stroke="#000" stroke-width="0.60"/><line x1="54.00" y1="371.90" x2="57.00" y2="371.90" stroke="#000" stroke-width="0.60"/><line x1="389.40" y1="371.90" x2="395.40" y2="371.90" stroke="#000" stroke-width="0.60"/><line x1="727.50" y1="371.90" x2="730.50" y2="371.90" stroke="#000" stroke-width="0.60"/><line x1="54.00" y1="327.60" x2="57.00" y2="327.60" stroke="#000" stroke-width="0.60"/><line x1="389.40" y1="327.60" x2="395.40" y2="327.60" stroke="#000" stroke-width="0.60"/><line x1="727.50" y1="327.60" x2="730.50" y2="327.60" stroke="#000" stroke-width="0.60"/><line x1="54.00" y1="283.30" x2="57.00" y2="283.30" stroke="#000" stroke-width="0.60"/><line x1="389.40" y1="283.30" x2="395.40" y2="283.30" stroke="#000" stroke-width="0.60"/><line x1="727.50" y1="283.30" x2="730.50" y2="283.30" stroke="#000" stroke-width="0.60"/><line x1="54.00" y1="239.00" x2="57.00" y2="239.00" stroke="#000" stroke-width="0.60"/><line x1="389.40" y1="239.00" x2="395.40" y2="239.00" stroke="#000" stroke-width="0.60"/><line x1="727.50" y1="239.00" x2="730.50" y2="239.00" stroke="#000" stroke-width="0.60"/></g>
<g id="ticklabels" fill="#000"><text transform="translate(36.48 197.20) scale(1.0645 1)" font-size="9.90" font-family="Liberation Sans, sans-serif">0.2</text><text transform="translate(36.48 152.90) scale(1.0484 1)" font-size="9.90" font-family="Liberation Sans, sans-serif">0.4</text><text transform="translate(36.48 108.60) scale(1.0564 1)" font-size="9.90" font-family="Liberation Sans, sans-serif">0.6</text><text transform="translate(36.48 64.30) scale(1.0564 1)" font-size="9.90" font-family="Liberation Sans, sans-serif">0.8</text><text transform="translate(36.10 20.00) scale(1.0811 1)" font-size="9.90" font-family="Liberation Sans, sans-serif">1.0</text><text transform="translate(36.48 463.00) scale(1.0523 1)" font-size="9.90" font-family="Liberation Sans, sans-serif">0.0</text><text transform="translate(36.48 418.70) scale(1.0645 1)" font-size="9.90" font-family="Liberation Sans, sans-serif">0.2</text><text transform="translate(36.48 374.40) scale(1.0484 1)" font-size="9.90" font-family="Liberation Sans, sans-serif">0.4</text><text transform="translate(36.48 330.10) scale(1.0564 1)" font-size="9.90" font-family="Liberation Sans, sans-serif">0.6</text><text transform="translate(36.48 285.80) scale(1.0564 1)" font-size="9.90" font-family="Liberation Sans, sans-serif">0.8</text><text transform="translate(36.10 241.50) scale(1.0811 1)" font-size="9.90" font-family="Liberation Sans, sans-serif">1.0</text><text transform="translate(63.89 470.70) scale(1.0317 1)" font-size="9.90" font-family="Liberation Sans, sans-serif">0.60</text><text transform="translate(103.69 470.70) scale(1.0345 1)" font-size="9.90" font-family="Liberation Sans, sans-serif">0.65</text><text transform="translate(143.49 470.70) scale(1.0317 1)" font-size="9.90" font-family="Liberation Sans, sans-serif">0.70</text><text transform="translate(183.29 470.70) scale(1.0345 1)" font-size="9.90" font-family="Liberation Sans, sans-serif">0.75</text><text transform="translate(223.09 470.70) scale(1.0317 1)" font-size="9.90" font-family="Liberation Sans, sans-serif">0.80</text><text transform="translate(262.89 470.70) scale(1.0345 1)" font-size="9.90" font-family="Liberation Sans, sans-serif">0.85</text><text transform="translate(302.69 470.70) scale(1.0317 1)" font-size="9.90" font-family="Liberation Sans, sans-serif">0.90</text><text transform="translate(342.49 470.70) scale(1.0345 1)" font-size="9.90" font-family="Liberation Sans, sans-serif">0.95</text><text transform="translate(381.92 470.70) scale(1.0514 1)" font-size="9.90" font-family="Liberation Sans, sans-serif">1.00</text><text transform="translate(402.29 470.70) scale(1.0317 1)" font-size="9.90" font-family="Liberation Sans, sans-serif">0.60</text><text transform="translate(442.09 470.70) scale(1.0345 1)" font-size="9.90" font-family="Liberation Sans, sans-serif">0.65</text><text transform="translate(481.89 470.70) scale(1.0317 1)" font-size="9.90" font-family="Liberation Sans, sans-serif">0.70</text><text transform="translate(521.69 470.70) scale(1.0345 1)" font-size="9.90" font-family="Liberation Sans, sans-serif">0.75</text><text transform="translate(561.49 470.70) scale(1.0317 1)" font-size="9.90" font-family="Liberation Sans, sans-serif">0.80</text><text transform="translate(601.29 470.70) scale(1.0345 1)" font-size="9.90" font-family="Liberation Sans, sans-serif">0.85</text><text transform="translate(641.09 470.70) scale(1.0317 1)" font-size="9.90" font-family="Liberation Sans, sans-serif">0.90</text><text transform="translate(680.89 470.70) scale(1.0345 1)" font-size="9.90" font-family="Liberation Sans, sans-serif">0.95</text><text transform="translate(720.32 470.70) scale(1.0514 1)" font-size="9.90" font-family="Liberation Sans, sans-serif">1.00</text></g>
<g id="panellabels" fill="#000"><text transform="translate(63.39 34.70) scale(1.1028 1)" font-size="12.20" font-family="Liberation Sans, sans-serif">(a)</text><text transform="translate(401.79 34.70) scale(1.1028 1)" font-size="12.20" font-family="Liberation Sans, sans-serif">(b)</text><text transform="translate(63.35 256.20) scale(1.1609 1)" font-size="12.20" font-family="Liberation Sans, sans-serif">(c)</text><text transform="translate(401.79 256.20) scale(1.1028 1)" font-size="12.20" font-family="Liberation Sans, sans-serif">(d)</text></g>
<g id="annotations" fill="#000"><text transform="translate(291.52 217.00) scale(0.9193 1)" font-size="13.20" font-family="Liberation Serif, serif" font-style="italic">M</text><circle cx="297.70" cy="205.70" r="0.75" fill="#000"/><text transform="translate(303.98 217.00) scale(1.4011 1)" font-size="13.20" font-family="Liberation Serif, serif">=</text><text transform="translate(316.14 217.00) scale(0.9437 1)" font-size="13.20" font-family="Liberation Serif, serif">10</text><text transform="translate(328.89 212.40) scale(1.2088 1)" font-size="8.40" font-family="Liberation Serif, serif">−8</text><text transform="translate(345.43 217.00) scale(1.0129 1)" font-size="13.20" font-family="Liberation Serif, serif" font-style="italic">M</text><circle cx="361.60" cy="217.10" r="2.75" fill="none" stroke="#000" stroke-width="0.70"/><circle cx="361.60" cy="217.10" r="0.70" fill="#000"/><text transform="translate(367.27 217.00) scale(0.9667 1)" font-size="13.20" font-family="Liberation Serif, serif">yr</text><text transform="translate(378.86 212.40) scale(1.2840 1)" font-size="8.40" font-family="Liberation Serif, serif">−1</text><text transform="translate(629.92 217.00) scale(0.9193 1)" font-size="13.20" font-family="Liberation Serif, serif" font-style="italic">M</text><circle cx="636.10" cy="205.70" r="0.75" fill="#000"/><text transform="translate(642.38 217.00) scale(1.4011 1)" font-size="13.20" font-family="Liberation Serif, serif">=</text><text transform="translate(654.54 217.00) scale(0.9437 1)" font-size="13.20" font-family="Liberation Serif, serif">10</text><text transform="translate(667.30 212.40) scale(1.1965 1)" font-size="8.40" font-family="Liberation Serif, serif">−7</text><text transform="translate(683.83 217.00) scale(1.0129 1)" font-size="13.20" font-family="Liberation Serif, serif" font-style="italic">M</text><circle cx="700.00" cy="217.10" r="2.75" fill="none" stroke="#000" stroke-width="0.70"/><circle cx="700.00" cy="217.10" r="0.70" fill="#000"/><text transform="translate(705.67 217.00) scale(0.9667 1)" font-size="13.20" font-family="Liberation Serif, serif">yr</text><text transform="translate(717.26 212.40) scale(1.2840 1)" font-size="8.40" font-family="Liberation Serif, serif">−1</text><text transform="translate(291.52 438.50) scale(0.9193 1)" font-size="13.20" font-family="Liberation Serif, serif" font-style="italic">M</text><circle cx="297.70" cy="427.20" r="0.75" fill="#000"/><text transform="translate(303.98 438.50) scale(1.4011 1)" font-size="13.20" font-family="Liberation Serif, serif">=</text><text transform="translate(316.14 438.50) scale(0.9437 1)" font-size="13.20" font-family="Liberation Serif, serif">10</text><text transform="translate(328.90 433.90) scale(1.1965 1)" font-size="8.40" font-family="Liberation Serif, serif">−6</text><text transform="translate(345.43 438.50) scale(1.0129 1)" font-size="13.20" font-family="Liberation Serif, serif" font-style="italic">M</text><circle cx="361.60" cy="438.60" r="2.75" fill="none" stroke="#000" stroke-width="0.70"/><circle cx="361.60" cy="438.60" r="0.70" fill="#000"/><text transform="translate(367.27 438.50) scale(0.9667 1)" font-size="13.20" font-family="Liberation Serif, serif">yr</text><text transform="translate(378.86 433.90) scale(1.2840 1)" font-size="8.40" font-family="Liberation Serif, serif">−1</text><text transform="translate(629.92 438.50) scale(0.9193 1)" font-size="13.20" font-family="Liberation Serif, serif" font-style="italic">M</text><circle cx="636.10" cy="427.20" r="0.75" fill="#000"/><text transform="translate(642.38 438.50) scale(1.4011 1)" font-size="13.20" font-family="Liberation Serif, serif">=</text><text transform="translate(654.54 438.50) scale(0.9437 1)" font-size="13.20" font-family="Liberation Serif, serif">10</text><text transform="translate(667.29 433.90) scale(1.2088 1)" font-size="8.40" font-family="Liberation Serif, serif">−5</text><text transform="translate(683.83 438.50) scale(1.0129 1)" font-size="13.20" font-family="Liberation Serif, serif" font-style="italic">M</text><circle cx="700.00" cy="438.60" r="2.75" fill="none" stroke="#000" stroke-width="0.70"/><circle cx="700.00" cy="438.60" r="0.70" fill="#000"/><text transform="translate(705.67 438.50) scale(0.9667 1)" font-size="13.20" font-family="Liberation Serif, serif">yr</text><text transform="translate(717.26 433.90) scale(1.2840 1)" font-size="8.40" font-family="Liberation Serif, serif">−1</text></g>
<g id="axislabels" fill="#000"><text transform="translate(365.85 489.60) scale(1.0021 1)" font-size="14.80" font-family="Liberation Serif, serif" font-style="italic">M</text><text transform="translate(383.15 489.60) scale(0.8214 1)" font-size="14.80" font-family="Liberation Serif, serif">(</text><text transform="translate(389.06 489.60) scale(1.0477 1)" font-size="14.80" font-family="Liberation Serif, serif" font-style="italic">M</text><circle cx="407.40" cy="489.70" r="3.10" fill="none" stroke="#000" stroke-width="0.65"/><circle cx="407.40" cy="489.70" r="0.70" fill="#000"/><text transform="translate(413.78 489.60) scale(0.9356 1)" font-size="14.80" font-family="Liberation Serif, serif">)</text><g transform="translate(24.2,255.3) rotate(-90)"><text transform="translate(-0.60 0.00) scale(0.8575 1)" font-size="16.40" font-family="Liberation Serif, serif">Ω</text><text transform="translate(10.40 2.60) scale(1.0816 1)" font-size="19.50" font-family="Liberation Serif, serif">/</text><text transform="translate(16.63 0.00) scale(0.8194 1)" font-size="16.40" font-family="Liberation Serif, serif">Ω</text><text transform="translate(26.75 2.20) scale(1.0182 1)" font-size="11.00" font-family="Liberation Serif, serif">c</text></g></g>
<g id="colorbar" fill="#000"><rect x="747.40" y="17.50" width="24.90" height="443.00" fill="url(#cbg)"/><rect x="747.40" y="17.50" width="24.90" height="443.00" fill="none" stroke="#111" stroke-width="0.75"/><line x1="769.30" y1="17.50" x2="772.30" y2="17.50" stroke="#000" stroke-width="0.60"/><text transform="translate(774.81 20.40) scale(0.9879 1)" font-size="11.80" font-family="Liberation Serif, serif">10</text><text transform="translate(786.77 16.10) scale(1.1287 1)" font-size="7.70" font-family="Liberation Serif, serif">−1</text><line x1="769.30" y1="80.79" x2="772.30" y2="80.79" stroke="#000" stroke-width="0.60"/><text transform="translate(774.81 83.69) scale(0.9879 1)" font-size="11.80" font-family="Liberation Serif, serif">10</text><text transform="translate(786.77 79.39) scale(1.1228 1)" font-size="7.70" font-family="Liberation Serif, serif">−2</text><line x1="769.30" y1="144.07" x2="772.30" y2="144.07" stroke="#000" stroke-width="0.60"/><text transform="translate(774.81 146.97) scale(0.9879 1)" font-size="11.80" font-family="Liberation Serif, serif">10</text><text transform="translate(786.77 142.67) scale(1.1056 1)" font-size="7.70" font-family="Liberation Serif, serif">−3</text><line x1="769.30" y1="207.36" x2="772.30" y2="207.36" stroke="#000" stroke-width="0.60"/><text transform="translate(774.81 210.26) scale(0.9879 1)" font-size="11.80" font-family="Liberation Serif, serif">10</text><text transform="translate(786.79 205.96) scale(1.0779 1)" font-size="7.70" font-family="Liberation Serif, serif">−4</text><line x1="769.30" y1="270.64" x2="772.30" y2="270.64" stroke="#000" stroke-width="0.60"/><text transform="translate(774.81 273.54) scale(0.9879 1)" font-size="11.80" font-family="Liberation Serif, serif">10</text><text transform="translate(786.77 269.24) scale(1.1056 1)" font-size="7.70" font-family="Liberation Serif, serif">−5</text><line x1="769.30" y1="333.93" x2="772.30" y2="333.93" stroke="#000" stroke-width="0.60"/><text transform="translate(774.81 336.83) scale(0.9879 1)" font-size="11.80" font-family="Liberation Serif, serif">10</text><text transform="translate(786.78 332.53) scale(1.0943 1)" font-size="7.70" font-family="Liberation Serif, serif">−6</text><line x1="769.30" y1="397.21" x2="772.30" y2="397.21" stroke="#000" stroke-width="0.60"/><text transform="translate(774.81 400.11) scale(0.9879 1)" font-size="11.80" font-family="Liberation Serif, serif">10</text><text transform="translate(786.78 395.81) scale(1.0943 1)" font-size="7.70" font-family="Liberation Serif, serif">−7</text><line x1="769.30" y1="460.50" x2="772.30" y2="460.50" stroke="#000" stroke-width="0.60"/><text transform="translate(774.81 463.40) scale(0.9879 1)" font-size="11.80" font-family="Liberation Serif, serif">10</text><text transform="translate(786.77 459.10) scale(1.1056 1)" font-size="7.70" font-family="Liberation Serif, serif">−8</text><g transform="translate(819.7,358.5) rotate(-90)"><text transform="translate(-1.25 0.00) scale(1.1168 1)" font-size="14.00" font-family="Liberation Sans, sans-serif">Mass of convective envelope</text><text transform="translate(203.75 -1.10) scale(0.9156 1)" font-size="13.60" font-family="Liberation Sans, sans-serif">(</text><text transform="translate(211.04 -0.90) scale(1.0327 1)" font-size="13.60" font-family="Liberation Serif, serif" font-style="italic">M</text><circle cx="227.90" cy="-0.50" r="2.75" fill="none" stroke="#000" stroke-width="0.70"/><circle cx="227.90" cy="-0.50" r="0.70" fill="#000"/><text transform="translate(235.44 -1.10) scale(0.9156 1)" font-size="13.60" font-family="Liberation Sans, sans-serif">)</text></g></g>
</svg>
</body>
</html>
